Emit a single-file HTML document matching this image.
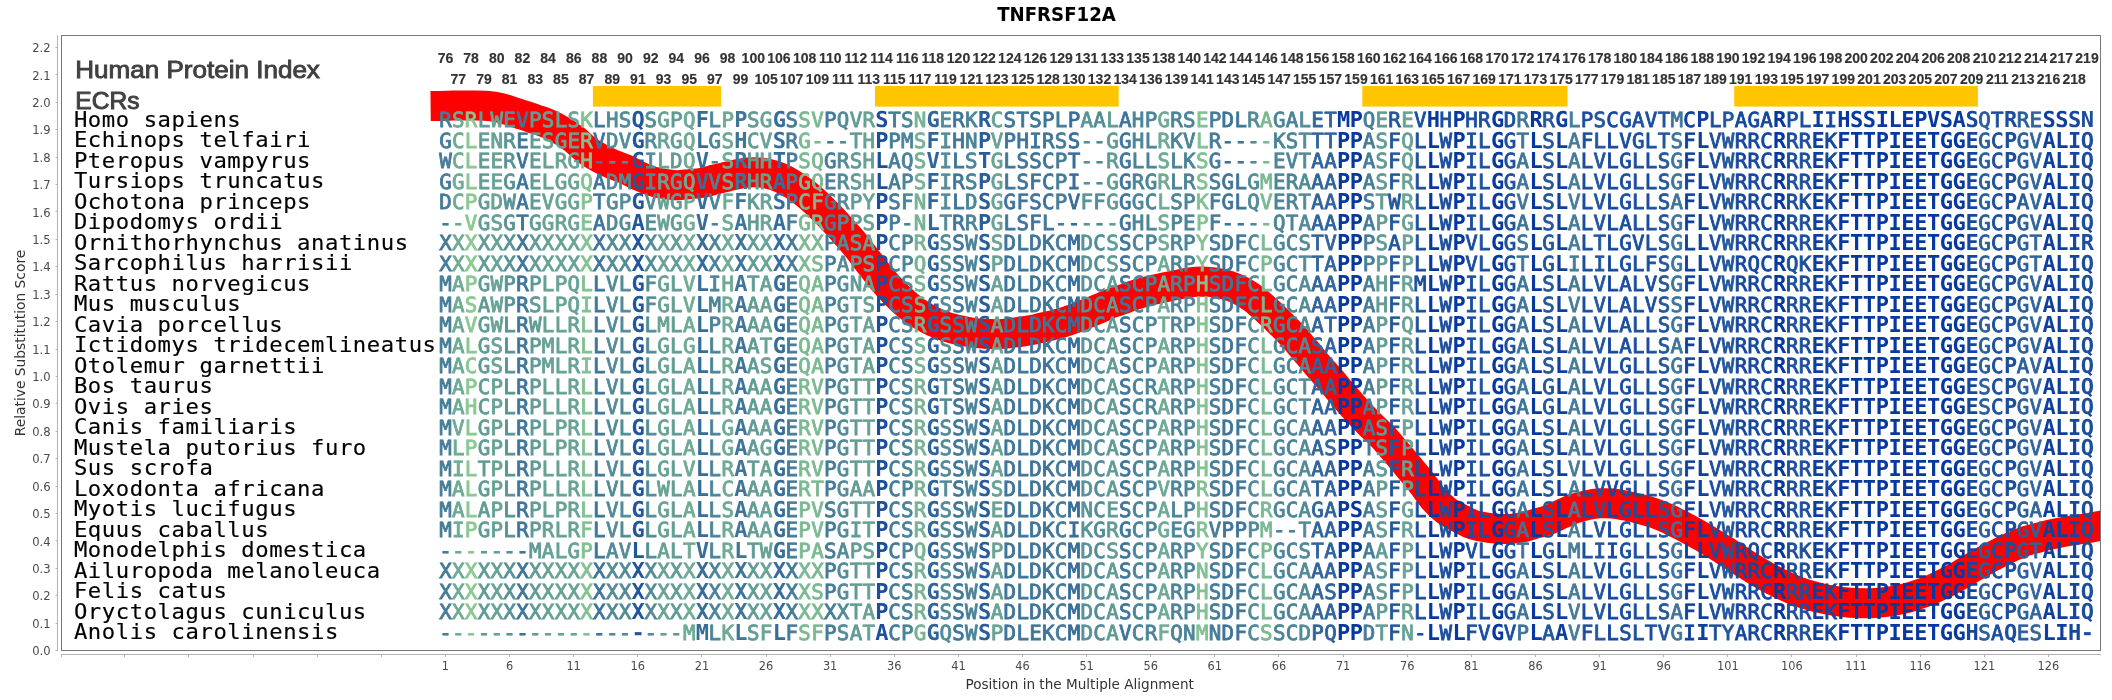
<!DOCTYPE html>
<html lang="en"><head><meta charset="utf-8"><title>TNFRSF12A</title>
<style>html,body{margin:0;padding:0;background:#fff}svg{display:block;will-change:transform}.t{font-family:"Liberation Sans",sans-serif}.tick{font-family:"DejaVu Sans Condensed","DejaVu Sans","Liberation Sans",sans-serif;font-size:12.6px;fill:#4a4a4a}.ax{font-family:"DejaVu Sans Condensed","DejaVu Sans","Liberation Sans",sans-serif;font-size:13.5px;fill:#333}.idx{font-family:"Liberation Sans",sans-serif;font-weight:bold;font-size:15px;fill:#333;stroke:#333;stroke-width:.15px;text-anchor:middle}.sp{font-family:"DejaVu Sans Mono","Liberation Mono",monospace;font-size:21.6px;fill:#000;stroke:#000;stroke-width:.15px;letter-spacing:.55px}.sq{font-family:"DejaVu Sans Mono","Liberation Mono",monospace;font-size:20.8px;letter-spacing:0.2981px;white-space:pre;stroke-width:.85px;text-rendering:geometricPrecision}.b{font-weight:bold;stroke-width:0;font-size:22px;letter-spacing:-0.4255px}
.c0{fill:#89c891;stroke:#89c891}
.c1{fill:#82c192;stroke:#82c192}
.c2{fill:#7bb992;stroke:#7bb992}
.c3{fill:#75b293;stroke:#75b293}
.c4{fill:#6eaa94;stroke:#6eaa94}
.c5{fill:#67a295;stroke:#67a295}
.c6{fill:#609b95;stroke:#609b95}
.c7{fill:#599396;stroke:#599396}
.c8{fill:#528b97;stroke:#528b97}
.c9{fill:#4b8498;stroke:#4b8498}
.c10{fill:#457c98;stroke:#457c98}
.c11{fill:#3e7599;stroke:#3e7599}
.c12{fill:#376d9a;stroke:#376d9a}
.c13{fill:#30659b;stroke:#30659b}
.c14{fill:#295e9b;stroke:#295e9b}
.c15{fill:#22569c;stroke:#22569c}
.c16{fill:#1b4e9d;stroke:#1b4e9d}
.c17{fill:#15479e;stroke:#15479e}
.c18{fill:#0e3f9e;stroke:#0e3f9e}
.c19{fill:#07389f;stroke:#07389f}
</style></head><body>
<svg width="2112" height="700" viewBox="0 0 2112 700">
<rect width="2112" height="700" fill="#fff"/>
<text x="1056.5" y="21" text-anchor="middle" font-family="DejaVu Sans Condensed,DejaVu Sans,Liberation Sans,sans-serif" font-weight="bold" font-size="19.8" fill="#000" textLength="118.7" lengthAdjust="spacingAndGlyphs">TNFRSF12A</text>
<g stroke="#b3b3b3" stroke-width="1" fill="none">
<path d="M57.5 35V651"/>
<path d="M61 654.5H2101"/>
<path d="M55.5 650.5H57.5M55.5 623.5H57.5M55.5 595.5H57.5M55.5 568.5H57.5M55.5 540.5H57.5M55.5 513.5H57.5M55.5 486.5H57.5M55.5 458.5H57.5M55.5 431.5H57.5M55.5 403.5H57.5M55.5 376.5H57.5M55.5 349.5H57.5M55.5 321.5H57.5M55.5 294.5H57.5M55.5 266.5H57.5M55.5 239.5H57.5M55.5 211.5H57.5M55.5 184.5H57.5M55.5 157.5H57.5M55.5 129.5H57.5M55.5 102.5H57.5M55.5 74.5H57.5M55.5 47.5H57.5"/>
<path d="M61.5 654.5V657M124.5 654.5V657M188.5 654.5V657M253.5 654.5V657M317.5 654.5V657M381.5 654.5V657M445.5 654.5V657M509.5 654.5V657M573.5 654.5V657M637.5 654.5V657M701.5 654.5V657M766.5 654.5V657M830.5 654.5V657M894.5 654.5V657M958.5 654.5V657M1022.5 654.5V657M1086.5 654.5V657M1150.5 654.5V657M1214.5 654.5V657M1278.5 654.5V657M1343.5 654.5V657M1407.5 654.5V657M1471.5 654.5V657M1535.5 654.5V657M1599.5 654.5V657M1663.5 654.5V657M1727.5 654.5V657M1791.5 654.5V657M1856.5 654.5V657M1920.5 654.5V657M1984.5 654.5V657M2048.5 654.5V657"/>
</g>
<text class="tick" x="50.6" y="655.1" text-anchor="end" textLength="18.4" lengthAdjust="spacingAndGlyphs">0.0</text>
<text class="tick" x="50.6" y="627.7" text-anchor="end" textLength="18.4" lengthAdjust="spacingAndGlyphs">0.1</text>
<text class="tick" x="50.6" y="600.3" text-anchor="end" textLength="18.4" lengthAdjust="spacingAndGlyphs">0.2</text>
<text class="tick" x="50.6" y="572.9" text-anchor="end" textLength="18.4" lengthAdjust="spacingAndGlyphs">0.3</text>
<text class="tick" x="50.6" y="545.5" text-anchor="end" textLength="18.4" lengthAdjust="spacingAndGlyphs">0.4</text>
<text class="tick" x="50.6" y="518.1" text-anchor="end" textLength="18.4" lengthAdjust="spacingAndGlyphs">0.5</text>
<text class="tick" x="50.6" y="490.6" text-anchor="end" textLength="18.4" lengthAdjust="spacingAndGlyphs">0.6</text>
<text class="tick" x="50.6" y="463.2" text-anchor="end" textLength="18.4" lengthAdjust="spacingAndGlyphs">0.7</text>
<text class="tick" x="50.6" y="435.8" text-anchor="end" textLength="18.4" lengthAdjust="spacingAndGlyphs">0.8</text>
<text class="tick" x="50.6" y="408.4" text-anchor="end" textLength="18.4" lengthAdjust="spacingAndGlyphs">0.9</text>
<text class="tick" x="50.6" y="381.0" text-anchor="end" textLength="18.4" lengthAdjust="spacingAndGlyphs">1.0</text>
<text class="tick" x="50.6" y="353.6" text-anchor="end" textLength="18.4" lengthAdjust="spacingAndGlyphs">1.1</text>
<text class="tick" x="50.6" y="326.2" text-anchor="end" textLength="18.4" lengthAdjust="spacingAndGlyphs">1.2</text>
<text class="tick" x="50.6" y="298.8" text-anchor="end" textLength="18.4" lengthAdjust="spacingAndGlyphs">1.3</text>
<text class="tick" x="50.6" y="271.4" text-anchor="end" textLength="18.4" lengthAdjust="spacingAndGlyphs">1.4</text>
<text class="tick" x="50.6" y="244.0" text-anchor="end" textLength="18.4" lengthAdjust="spacingAndGlyphs">1.5</text>
<text class="tick" x="50.6" y="216.6" text-anchor="end" textLength="18.4" lengthAdjust="spacingAndGlyphs">1.6</text>
<text class="tick" x="50.6" y="189.1" text-anchor="end" textLength="18.4" lengthAdjust="spacingAndGlyphs">1.7</text>
<text class="tick" x="50.6" y="161.7" text-anchor="end" textLength="18.4" lengthAdjust="spacingAndGlyphs">1.8</text>
<text class="tick" x="50.6" y="134.3" text-anchor="end" textLength="18.4" lengthAdjust="spacingAndGlyphs">1.9</text>
<text class="tick" x="50.6" y="106.9" text-anchor="end" textLength="18.4" lengthAdjust="spacingAndGlyphs">2.0</text>
<text class="tick" x="50.6" y="79.5" text-anchor="end" textLength="18.4" lengthAdjust="spacingAndGlyphs">2.1</text>
<text class="tick" x="50.6" y="52.1" text-anchor="end" textLength="18.4" lengthAdjust="spacingAndGlyphs">2.2</text>
<text class="tick" x="445.4" y="670" text-anchor="middle">1</text>
<text class="tick" x="509.5" y="670" text-anchor="middle">6</text>
<text class="tick" x="573.6" y="670" text-anchor="middle">11</text>
<text class="tick" x="637.8" y="670" text-anchor="middle">16</text>
<text class="tick" x="701.9" y="670" text-anchor="middle">21</text>
<text class="tick" x="766.0" y="670" text-anchor="middle">26</text>
<text class="tick" x="830.1" y="670" text-anchor="middle">31</text>
<text class="tick" x="894.2" y="670" text-anchor="middle">36</text>
<text class="tick" x="958.4" y="670" text-anchor="middle">41</text>
<text class="tick" x="1022.5" y="670" text-anchor="middle">46</text>
<text class="tick" x="1086.6" y="670" text-anchor="middle">51</text>
<text class="tick" x="1150.7" y="670" text-anchor="middle">56</text>
<text class="tick" x="1214.8" y="670" text-anchor="middle">61</text>
<text class="tick" x="1279.0" y="670" text-anchor="middle">66</text>
<text class="tick" x="1343.1" y="670" text-anchor="middle">71</text>
<text class="tick" x="1407.2" y="670" text-anchor="middle">76</text>
<text class="tick" x="1471.3" y="670" text-anchor="middle">81</text>
<text class="tick" x="1535.4" y="670" text-anchor="middle">86</text>
<text class="tick" x="1599.6" y="670" text-anchor="middle">91</text>
<text class="tick" x="1663.7" y="670" text-anchor="middle">96</text>
<text class="tick" x="1727.8" y="670" text-anchor="middle">101</text>
<text class="tick" x="1791.9" y="670" text-anchor="middle">106</text>
<text class="tick" x="1856.0" y="670" text-anchor="middle">111</text>
<text class="tick" x="1920.2" y="670" text-anchor="middle">116</text>
<text class="tick" x="1984.3" y="670" text-anchor="middle">121</text>
<text class="tick" x="2048.4" y="670" text-anchor="middle">126</text>
<text class="ax" x="1079.7" y="688.9" text-anchor="middle" textLength="228.4" lengthAdjust="spacingAndGlyphs">Position in the Multiple Alignment</text>
<text class="ax" transform="translate(25.2,343) rotate(-90)" text-anchor="middle" textLength="186.5" lengthAdjust="spacingAndGlyphs">Relative Substitution Score</text>
<clipPath id="pc"><rect x="61.5" y="35.5" width="2039" height="615"/></clipPath>
<path d="M430.6 106.0C433.2 106.0 441.3 105.9 446.0 105.8C450.7 105.7 454.5 105.5 458.8 105.4C463.1 105.4 467.3 105.4 471.6 105.5C475.9 105.6 480.2 105.5 484.5 105.8C488.8 106.1 493.0 106.4 497.3 107.2C501.6 108.0 505.8 109.5 510.1 110.8C514.4 112.1 518.6 113.6 522.9 115.0C527.2 116.4 531.5 117.8 535.8 119.3C540.1 120.8 544.3 122.1 548.6 124.0C552.9 125.9 557.1 128.1 561.4 130.6C565.7 133.1 569.9 135.8 574.2 139.1C578.5 142.4 582.8 147.2 587.1 150.4C591.4 153.6 595.6 156.0 599.9 158.3C604.2 160.6 608.4 162.6 612.7 164.4C617.0 166.2 621.2 167.4 625.5 169.3C629.8 171.2 634.1 173.8 638.4 175.7C642.7 177.6 646.9 179.5 651.2 180.9C655.5 182.3 659.7 183.2 664.0 183.9C668.3 184.6 672.5 185.2 676.8 185.2C681.1 185.2 685.4 184.5 689.7 184.1C694.0 183.7 698.2 183.6 702.5 182.8C706.8 182.0 711.0 180.5 715.3 179.4C719.6 178.3 723.8 177.4 728.1 176.4C732.4 175.4 736.7 174.2 741.0 173.5C745.3 172.8 749.5 172.2 753.8 172.2C758.1 172.2 762.3 172.6 766.6 173.5C770.9 174.4 775.1 175.6 779.4 177.4C783.7 179.2 787.9 181.4 792.2 184.1C796.5 186.8 800.8 189.9 805.1 193.3C809.4 196.7 813.6 200.5 817.9 204.5C822.2 208.5 826.4 212.9 830.7 217.3C835.0 221.8 839.2 226.4 843.5 231.2C847.8 236.0 852.1 240.8 856.4 246.1C860.7 251.4 864.9 257.3 869.2 262.8C873.5 268.3 877.7 274.0 882.0 279.1C886.3 284.2 890.5 288.8 894.8 293.2C899.1 297.6 903.4 301.7 907.7 305.3C912.0 308.9 916.2 311.9 920.5 314.6C924.8 317.3 929.0 319.7 933.3 321.7C937.6 323.7 941.8 325.3 946.1 326.7C950.4 328.1 954.7 329.1 959.0 330.1C963.3 331.1 967.5 331.9 971.8 332.5C976.1 333.1 980.3 333.5 984.6 333.8C988.9 334.1 993.1 334.3 997.4 334.2C1001.7 334.1 1006.0 333.6 1010.3 333.1C1014.6 332.6 1018.8 332.1 1023.1 331.4C1027.4 330.7 1031.6 330.0 1035.9 329.1C1040.2 328.2 1044.4 327.1 1048.7 326.1C1053.0 325.1 1057.3 324.2 1061.6 322.9C1065.9 321.6 1070.1 320.1 1074.4 318.5C1078.7 316.9 1082.9 315.1 1087.2 313.4C1091.5 311.7 1095.7 309.9 1100.0 308.1C1104.3 306.3 1108.5 304.4 1112.8 302.8C1117.1 301.2 1121.4 299.8 1125.7 298.3C1130.0 296.8 1134.2 295.2 1138.5 293.9C1142.8 292.6 1147.0 291.4 1151.3 290.3C1155.6 289.2 1159.8 288.4 1164.1 287.5C1168.4 286.6 1172.7 285.7 1177.0 284.8C1181.3 283.9 1185.5 282.8 1189.8 282.3C1194.1 281.8 1198.3 281.6 1202.6 281.6C1206.9 281.7 1211.1 282.0 1215.4 282.6C1219.7 283.2 1224.0 284.1 1228.3 285.5C1232.6 286.9 1236.8 288.6 1241.1 290.8C1245.4 293.1 1249.6 295.8 1253.9 299.0C1258.2 302.2 1262.4 306.3 1266.7 310.2C1271.0 314.1 1275.3 318.3 1279.6 322.5C1283.9 326.7 1288.1 330.9 1292.4 335.5C1296.7 340.1 1300.9 345.4 1305.2 350.4C1309.5 355.4 1313.7 360.7 1318.0 365.7C1322.3 370.7 1326.6 375.3 1330.9 380.3C1335.2 385.3 1339.4 390.6 1343.7 395.6C1348.0 400.6 1352.2 405.4 1356.5 410.1C1360.8 414.8 1365.0 419.3 1369.3 423.6C1373.6 427.9 1377.9 431.6 1382.2 436.1C1386.5 440.6 1390.7 445.7 1395.0 450.7C1399.3 455.7 1403.5 460.9 1407.8 466.0C1412.1 471.1 1416.3 475.9 1420.6 481.3C1424.9 486.7 1429.1 493.6 1433.4 498.5C1437.7 503.4 1442.0 507.5 1446.3 510.7C1450.6 513.9 1454.8 515.6 1459.1 517.9C1463.4 520.1 1467.6 522.6 1471.9 524.2C1476.2 525.8 1480.4 526.5 1484.7 527.3C1489.0 528.1 1493.3 528.5 1497.6 528.8C1501.9 529.1 1506.1 529.1 1510.4 528.9C1514.7 528.6 1518.9 528.2 1523.2 527.3C1527.5 526.4 1531.7 524.8 1536.0 523.5C1540.3 522.2 1544.6 521.3 1548.9 519.7C1553.2 518.1 1557.4 515.8 1561.7 513.9C1566.0 512.0 1570.2 510.0 1574.5 508.5C1578.8 507.0 1583.0 506.0 1587.3 505.1C1591.6 504.2 1595.9 503.6 1600.2 503.3C1604.5 503.0 1608.7 503.1 1613.0 503.5C1617.3 503.9 1621.5 504.8 1625.8 505.6C1630.1 506.5 1634.3 507.5 1638.6 508.6C1642.9 509.7 1647.2 510.9 1651.5 512.3C1655.8 513.7 1660.0 515.4 1664.3 517.2C1668.6 519.0 1672.8 521.2 1677.1 523.3C1681.4 525.4 1685.6 527.7 1689.9 530.0C1694.2 532.3 1698.5 534.6 1702.8 537.1C1707.1 539.6 1711.3 542.4 1715.6 545.0C1719.9 547.6 1724.1 550.3 1728.4 553.0C1732.7 555.7 1736.9 558.6 1741.2 561.3C1745.5 564.0 1749.7 566.7 1754.0 569.3C1758.3 571.9 1762.6 574.4 1766.9 576.8C1771.2 579.1 1775.4 581.3 1779.7 583.4C1784.0 585.5 1788.2 587.5 1792.5 589.3C1796.8 591.1 1801.0 592.7 1805.3 594.1C1809.6 595.5 1813.9 596.6 1818.2 597.6C1822.5 598.6 1826.7 599.5 1831.0 600.2C1835.3 601.0 1839.5 601.6 1843.8 602.1C1848.1 602.6 1852.3 602.9 1856.6 603.1C1860.9 603.3 1865.2 603.3 1869.5 603.2C1873.8 603.1 1878.0 602.8 1882.3 602.3C1886.6 601.8 1890.8 601.3 1895.1 600.5C1899.4 599.7 1903.6 598.8 1907.9 597.7C1912.2 596.6 1916.5 595.2 1920.8 593.7C1925.1 592.2 1929.3 590.5 1933.6 588.6C1937.9 586.7 1942.1 584.6 1946.4 582.4C1950.7 580.2 1954.9 577.9 1959.2 575.5C1963.5 573.1 1967.8 570.3 1972.1 567.8C1976.4 565.3 1980.6 562.8 1984.9 560.4C1989.2 558.0 1993.4 555.8 1997.7 553.6C2002.0 551.4 2006.2 549.4 2010.5 547.4C2014.8 545.4 2019.1 543.3 2023.4 541.8C2027.7 540.3 2031.9 539.4 2036.2 538.2C2040.5 537.1 2044.7 535.9 2049.0 534.9C2053.3 533.9 2057.5 533.0 2061.8 532.2C2066.1 531.4 2070.3 530.7 2074.6 530.0C2078.9 529.3 2083.2 528.9 2087.5 528.2C2091.8 527.5 2096.0 526.6 2100.3 525.9C2104.6 525.1 2106.7 524.8 2113.1 523.7C2119.5 522.6 2134.5 520.0 2138.8 519.2" fill="none" stroke="#ff0000" stroke-width="30" stroke-linejoin="round" clip-path="url(#pc)"/>
<rect x="592.9" y="86" width="128.2" height="20.6" fill="#ffc600"/>
<rect x="875.0" y="86" width="243.7" height="20.6" fill="#ffc600"/>
<rect x="1362.3" y="86" width="205.2" height="20.6" fill="#ffc600"/>
<rect x="1734.2" y="86" width="243.7" height="20.6" fill="#ffc600"/>
<text class="t" x="75.3" y="77.6" font-size="24.4" fill="#404040" stroke="#404040" stroke-width=".9" textLength="244.6" lengthAdjust="spacingAndGlyphs">Human Protein Index</text>
<text class="t" x="75.3" y="108.8" font-size="23.6" fill="#404040" stroke="#404040" stroke-width=".9" textLength="64.2" lengthAdjust="spacingAndGlyphs">ECRs</text>
<text class="idx" transform="translate(445.5 62.9) scale(.935 1)">76</text>
<text class="idx" transform="translate(471.1 62.9) scale(.935 1)">78</text>
<text class="idx" transform="translate(496.8 62.9) scale(.935 1)">80</text>
<text class="idx" transform="translate(522.4 62.9) scale(.935 1)">82</text>
<text class="idx" transform="translate(548.1 62.9) scale(.935 1)">84</text>
<text class="idx" transform="translate(573.7 62.9) scale(.935 1)">86</text>
<text class="idx" transform="translate(599.4 62.9) scale(.935 1)">88</text>
<text class="idx" transform="translate(625.0 62.9) scale(.935 1)">90</text>
<text class="idx" transform="translate(650.7 62.9) scale(.935 1)">92</text>
<text class="idx" transform="translate(676.3 62.9) scale(.935 1)">94</text>
<text class="idx" transform="translate(702.0 62.9) scale(.935 1)">96</text>
<text class="idx" transform="translate(727.6 62.9) scale(.935 1)">98</text>
<text class="idx" transform="translate(753.3 62.9) scale(.935 1)">100</text>
<text class="idx" transform="translate(778.9 62.9) scale(.935 1)">106</text>
<text class="idx" transform="translate(804.6 62.9) scale(.935 1)">108</text>
<text class="idx" transform="translate(830.2 62.9) scale(.935 1)">110</text>
<text class="idx" transform="translate(855.9 62.9) scale(.935 1)">112</text>
<text class="idx" transform="translate(881.5 62.9) scale(.935 1)">114</text>
<text class="idx" transform="translate(907.2 62.9) scale(.935 1)">116</text>
<text class="idx" transform="translate(932.8 62.9) scale(.935 1)">118</text>
<text class="idx" transform="translate(958.5 62.9) scale(.935 1)">120</text>
<text class="idx" transform="translate(984.1 62.9) scale(.935 1)">122</text>
<text class="idx" transform="translate(1009.8 62.9) scale(.935 1)">124</text>
<text class="idx" transform="translate(1035.4 62.9) scale(.935 1)">126</text>
<text class="idx" transform="translate(1061.1 62.9) scale(.935 1)">129</text>
<text class="idx" transform="translate(1086.7 62.9) scale(.935 1)">131</text>
<text class="idx" transform="translate(1112.3 62.9) scale(.935 1)">133</text>
<text class="idx" transform="translate(1138.0 62.9) scale(.935 1)">135</text>
<text class="idx" transform="translate(1163.6 62.9) scale(.935 1)">138</text>
<text class="idx" transform="translate(1189.3 62.9) scale(.935 1)">140</text>
<text class="idx" transform="translate(1214.9 62.9) scale(.935 1)">142</text>
<text class="idx" transform="translate(1240.6 62.9) scale(.935 1)">144</text>
<text class="idx" transform="translate(1266.2 62.9) scale(.935 1)">146</text>
<text class="idx" transform="translate(1291.9 62.9) scale(.935 1)">148</text>
<text class="idx" transform="translate(1317.5 62.9) scale(.935 1)">156</text>
<text class="idx" transform="translate(1343.2 62.9) scale(.935 1)">158</text>
<text class="idx" transform="translate(1368.8 62.9) scale(.935 1)">160</text>
<text class="idx" transform="translate(1394.5 62.9) scale(.935 1)">162</text>
<text class="idx" transform="translate(1420.1 62.9) scale(.935 1)">164</text>
<text class="idx" transform="translate(1445.8 62.9) scale(.935 1)">166</text>
<text class="idx" transform="translate(1471.4 62.9) scale(.935 1)">168</text>
<text class="idx" transform="translate(1497.1 62.9) scale(.935 1)">170</text>
<text class="idx" transform="translate(1522.7 62.9) scale(.935 1)">172</text>
<text class="idx" transform="translate(1548.4 62.9) scale(.935 1)">174</text>
<text class="idx" transform="translate(1574.0 62.9) scale(.935 1)">176</text>
<text class="idx" transform="translate(1599.7 62.9) scale(.935 1)">178</text>
<text class="idx" transform="translate(1625.3 62.9) scale(.935 1)">180</text>
<text class="idx" transform="translate(1651.0 62.9) scale(.935 1)">184</text>
<text class="idx" transform="translate(1676.6 62.9) scale(.935 1)">186</text>
<text class="idx" transform="translate(1702.3 62.9) scale(.935 1)">188</text>
<text class="idx" transform="translate(1727.9 62.9) scale(.935 1)">190</text>
<text class="idx" transform="translate(1753.5 62.9) scale(.935 1)">192</text>
<text class="idx" transform="translate(1779.2 62.9) scale(.935 1)">194</text>
<text class="idx" transform="translate(1804.8 62.9) scale(.935 1)">196</text>
<text class="idx" transform="translate(1830.5 62.9) scale(.935 1)">198</text>
<text class="idx" transform="translate(1856.1 62.9) scale(.935 1)">200</text>
<text class="idx" transform="translate(1881.8 62.9) scale(.935 1)">202</text>
<text class="idx" transform="translate(1907.4 62.9) scale(.935 1)">204</text>
<text class="idx" transform="translate(1933.1 62.9) scale(.935 1)">206</text>
<text class="idx" transform="translate(1958.7 62.9) scale(.935 1)">208</text>
<text class="idx" transform="translate(1984.4 62.9) scale(.935 1)">210</text>
<text class="idx" transform="translate(2010.0 62.9) scale(.935 1)">212</text>
<text class="idx" transform="translate(2035.7 62.9) scale(.935 1)">214</text>
<text class="idx" transform="translate(2061.3 62.9) scale(.935 1)">217</text>
<text class="idx" transform="translate(2087.0 62.9) scale(.935 1)">219</text>
<text class="idx" transform="translate(458.3 83.8) scale(.935 1)">77</text>
<text class="idx" transform="translate(484.0 83.8) scale(.935 1)">79</text>
<text class="idx" transform="translate(509.6 83.8) scale(.935 1)">81</text>
<text class="idx" transform="translate(535.3 83.8) scale(.935 1)">83</text>
<text class="idx" transform="translate(560.9 83.8) scale(.935 1)">85</text>
<text class="idx" transform="translate(586.6 83.8) scale(.935 1)">87</text>
<text class="idx" transform="translate(612.2 83.8) scale(.935 1)">89</text>
<text class="idx" transform="translate(637.9 83.8) scale(.935 1)">91</text>
<text class="idx" transform="translate(663.5 83.8) scale(.935 1)">93</text>
<text class="idx" transform="translate(689.2 83.8) scale(.935 1)">95</text>
<text class="idx" transform="translate(714.8 83.8) scale(.935 1)">97</text>
<text class="idx" transform="translate(740.5 83.8) scale(.935 1)">99</text>
<text class="idx" transform="translate(766.1 83.8) scale(.935 1)">105</text>
<text class="idx" transform="translate(791.7 83.8) scale(.935 1)">107</text>
<text class="idx" transform="translate(817.4 83.8) scale(.935 1)">109</text>
<text class="idx" transform="translate(843.0 83.8) scale(.935 1)">111</text>
<text class="idx" transform="translate(868.7 83.8) scale(.935 1)">113</text>
<text class="idx" transform="translate(894.3 83.8) scale(.935 1)">115</text>
<text class="idx" transform="translate(920.0 83.8) scale(.935 1)">117</text>
<text class="idx" transform="translate(945.6 83.8) scale(.935 1)">119</text>
<text class="idx" transform="translate(971.3 83.8) scale(.935 1)">121</text>
<text class="idx" transform="translate(996.9 83.8) scale(.935 1)">123</text>
<text class="idx" transform="translate(1022.6 83.8) scale(.935 1)">125</text>
<text class="idx" transform="translate(1048.2 83.8) scale(.935 1)">128</text>
<text class="idx" transform="translate(1073.9 83.8) scale(.935 1)">130</text>
<text class="idx" transform="translate(1099.5 83.8) scale(.935 1)">132</text>
<text class="idx" transform="translate(1125.2 83.8) scale(.935 1)">134</text>
<text class="idx" transform="translate(1150.8 83.8) scale(.935 1)">136</text>
<text class="idx" transform="translate(1176.5 83.8) scale(.935 1)">139</text>
<text class="idx" transform="translate(1202.1 83.8) scale(.935 1)">141</text>
<text class="idx" transform="translate(1227.8 83.8) scale(.935 1)">143</text>
<text class="idx" transform="translate(1253.4 83.8) scale(.935 1)">145</text>
<text class="idx" transform="translate(1279.1 83.8) scale(.935 1)">147</text>
<text class="idx" transform="translate(1304.7 83.8) scale(.935 1)">155</text>
<text class="idx" transform="translate(1330.4 83.8) scale(.935 1)">157</text>
<text class="idx" transform="translate(1356.0 83.8) scale(.935 1)">159</text>
<text class="idx" transform="translate(1381.7 83.8) scale(.935 1)">161</text>
<text class="idx" transform="translate(1407.3 83.8) scale(.935 1)">163</text>
<text class="idx" transform="translate(1432.9 83.8) scale(.935 1)">165</text>
<text class="idx" transform="translate(1458.6 83.8) scale(.935 1)">167</text>
<text class="idx" transform="translate(1484.2 83.8) scale(.935 1)">169</text>
<text class="idx" transform="translate(1509.9 83.8) scale(.935 1)">171</text>
<text class="idx" transform="translate(1535.5 83.8) scale(.935 1)">173</text>
<text class="idx" transform="translate(1561.2 83.8) scale(.935 1)">175</text>
<text class="idx" transform="translate(1586.8 83.8) scale(.935 1)">177</text>
<text class="idx" transform="translate(1612.5 83.8) scale(.935 1)">179</text>
<text class="idx" transform="translate(1638.1 83.8) scale(.935 1)">181</text>
<text class="idx" transform="translate(1663.8 83.8) scale(.935 1)">185</text>
<text class="idx" transform="translate(1689.4 83.8) scale(.935 1)">187</text>
<text class="idx" transform="translate(1715.1 83.8) scale(.935 1)">189</text>
<text class="idx" transform="translate(1740.7 83.8) scale(.935 1)">191</text>
<text class="idx" transform="translate(1766.4 83.8) scale(.935 1)">193</text>
<text class="idx" transform="translate(1792.0 83.8) scale(.935 1)">195</text>
<text class="idx" transform="translate(1817.7 83.8) scale(.935 1)">197</text>
<text class="idx" transform="translate(1843.3 83.8) scale(.935 1)">199</text>
<text class="idx" transform="translate(1869.0 83.8) scale(.935 1)">201</text>
<text class="idx" transform="translate(1894.6 83.8) scale(.935 1)">203</text>
<text class="idx" transform="translate(1920.3 83.8) scale(.935 1)">205</text>
<text class="idx" transform="translate(1945.9 83.8) scale(.935 1)">207</text>
<text class="idx" transform="translate(1971.6 83.8) scale(.935 1)">209</text>
<text class="idx" transform="translate(1997.2 83.8) scale(.935 1)">211</text>
<text class="idx" transform="translate(2022.9 83.8) scale(.935 1)">213</text>
<text class="idx" transform="translate(2048.5 83.8) scale(.935 1)">216</text>
<text class="idx" transform="translate(2074.1 83.8) scale(.935 1)">218</text>
<text class="sp" transform="translate(73.9 126.8) scale(1.03 1)">Homo sapiens</text>
<text class="sp" transform="translate(73.9 147.3) scale(1.03 1)">Echinops telfairi</text>
<text class="sp" transform="translate(73.9 167.8) scale(1.03 1)">Pteropus vampyrus</text>
<text class="sp" transform="translate(73.9 188.3) scale(1.03 1)">Tursiops truncatus</text>
<text class="sp" transform="translate(73.9 208.8) scale(1.03 1)">Ochotona princeps</text>
<text class="sp" transform="translate(73.9 229.3) scale(1.03 1)">Dipodomys ordii</text>
<text class="sp" transform="translate(73.9 249.8) scale(1.03 1)">Ornithorhynchus anatinus</text>
<text class="sp" transform="translate(73.9 270.3) scale(1.03 1)">Sarcophilus harrisii</text>
<text class="sp" transform="translate(73.9 290.8) scale(1.03 1)">Rattus norvegicus</text>
<text class="sp" transform="translate(73.9 311.3) scale(1.03 1)">Mus musculus</text>
<text class="sp" transform="translate(73.9 331.8) scale(1.03 1)">Cavia porcellus</text>
<text class="sp" transform="translate(73.9 352.3) scale(1.03 1)">Ictidomys tridecemlineatus</text>
<text class="sp" transform="translate(73.9 372.8) scale(1.03 1)">Otolemur garnettii</text>
<text class="sp" transform="translate(73.9 393.3) scale(1.03 1)">Bos taurus</text>
<text class="sp" transform="translate(73.9 413.8) scale(1.03 1)">Ovis aries</text>
<text class="sp" transform="translate(73.9 434.3) scale(1.03 1)">Canis familiaris</text>
<text class="sp" transform="translate(73.9 454.8) scale(1.03 1)">Mustela putorius furo</text>
<text class="sp" transform="translate(73.9 475.3) scale(1.03 1)">Sus scrofa</text>
<text class="sp" transform="translate(73.9 495.8) scale(1.03 1)">Loxodonta africana</text>
<text class="sp" transform="translate(73.9 516.3) scale(1.03 1)">Myotis lucifugus</text>
<text class="sp" transform="translate(73.9 536.8) scale(1.03 1)">Equus caballus</text>
<text class="sp" transform="translate(73.9 557.3) scale(1.03 1)">Monodelphis domestica</text>
<text class="sp" transform="translate(73.9 577.8) scale(1.03 1)">Ailuropoda melanoleuca</text>
<text class="sp" transform="translate(73.9 598.3) scale(1.03 1)">Felis catus</text>
<text class="sp" transform="translate(73.9 618.8) scale(1.03 1)">Oryctolagus cuniculus</text>
<text class="sp" transform="translate(73.9 639.3) scale(1.03 1)">Anolis carolinensis</text>
<text class="sq" x="439.19" y="127.1"><tspan class="c10">R</tspan><tspan class="c4">S</tspan><tspan class="c0">R</tspan><tspan class="c6">L</tspan><tspan class="c5">W</tspan><tspan class="c7">E</tspan><tspan class="c11">V</tspan><tspan class="c6">P</tspan><tspan class="c5">SLS</tspan><tspan class="c1">K</tspan><tspan class="c11">L</tspan><tspan class="c8">HS</tspan><tspan class="c15 b">Q</tspan><tspan class="c8">S</tspan><tspan class="c5">G</tspan><tspan class="c6">P</tspan><tspan class="c4">Q</tspan><tspan class="c12 b">F</tspan><tspan class="c9">L</tspan><tspan class="c4">P</tspan><tspan class="c11 b">P</tspan><tspan class="c6">S</tspan><tspan class="c5">G</tspan><tspan class="c12 b">G</tspan><tspan class="c10">S</tspan><tspan class="c2">SV</tspan><tspan class="c10">P</tspan><tspan class="c8">Q</tspan><tspan class="c6">V</tspan><tspan class="c5">R</tspan><tspan class="c16 b">S</tspan><tspan class="c10">T</tspan><tspan class="c9">S</tspan><tspan class="c3">N</tspan><tspan class="c13 b">G</tspan><tspan class="c8">E</tspan><tspan class="c11">R</tspan><tspan class="c9">K</tspan><tspan class="c14 b">R</tspan><tspan class="c5">C</tspan><tspan class="c11">STSP</tspan><tspan class="c10">L</tspan><tspan class="c12">P</tspan><tspan class="c7">A</tspan><tspan class="c8">A</tspan><tspan class="c6">L</tspan><tspan class="c11">A</tspan><tspan class="c9">HP</tspan><tspan class="c4">G</tspan><tspan class="c9">RS</tspan><tspan class="c1">E</tspan><tspan class="c10">P</tspan><tspan class="c11">DL</tspan><tspan class="c8">R</tspan><tspan class="c2">A</tspan><tspan class="c9">GA</tspan><tspan class="c8">L</tspan><tspan class="c13">ET</tspan><tspan class="c19 b">MP</tspan><tspan class="c10">Q</tspan><tspan class="c6">E</tspan><tspan class="c15">R</tspan><tspan class="c5">E</tspan><tspan class="c16">V</tspan><tspan class="c19 b">H</tspan><tspan class="c16">H</tspan><tspan class="c19 b">P</tspan><tspan class="c16">HR</tspan><tspan class="c19 b">G</tspan><tspan class="c16">D</tspan><tspan class="c11">R</tspan><tspan class="c19 b">R</tspan><tspan class="c15">R</tspan><tspan class="c18 b">G</tspan><tspan class="c10">L</tspan><tspan class="c16">P</tspan><tspan class="c15">S</tspan><tspan class="c17">C</tspan><tspan class="c16">GAV</tspan><tspan class="c15">T</tspan><tspan class="c11">M</tspan><tspan class="c18">C</tspan><tspan class="c18 b">P</tspan><tspan class="c16">L</tspan><tspan class="c15">P</tspan><tspan class="c17">AGA</tspan><tspan class="c19 b">R</tspan><tspan class="c16">PL</tspan><tspan class="c18 b">I</tspan><tspan class="c17">I</tspan><tspan class="c19 b">HSSILEPVSA</tspan><tspan class="c17 b">S</tspan><tspan class="c14">Q</tspan><tspan class="c16">T</tspan><tspan class="c16 b">R</tspan><tspan class="c14">R</tspan><tspan class="c13">E</tspan><tspan class="c18 b">SS</tspan><tspan class="c17 b">S</tspan><tspan class="c16 b">N</tspan></text>
<text class="sq" x="439.19" y="147.6"><tspan class="c10">G</tspan><tspan class="c4">C</tspan><tspan class="c0">L</tspan><tspan class="c6">E</tspan><tspan class="c5">N</tspan><tspan class="c7">R</tspan><tspan class="c11">E</tspan><tspan class="c6">E</tspan><tspan class="c5">SGE</tspan><tspan class="c1">R</tspan><tspan class="c11">V</tspan><tspan class="c8">DV</tspan><tspan class="c15 b">G</tspan><tspan class="c8">R</tspan><tspan class="c5">R</tspan><tspan class="c6">G</tspan><tspan class="c4">Q</tspan><tspan class="c12 b">L</tspan><tspan class="c9">G</tspan><tspan class="c4">S</tspan><tspan class="c11 b">H</tspan><tspan class="c6">C</tspan><tspan class="c5">V</tspan><tspan class="c12 b">S</tspan><tspan class="c10">R</tspan><tspan class="c2">G-</tspan><tspan class="c10">-</tspan><tspan class="c8">-</tspan><tspan class="c6">T</tspan><tspan class="c5">H</tspan><tspan class="c16 b">P</tspan><tspan class="c10">P</tspan><tspan class="c9">M</tspan><tspan class="c3">S</tspan><tspan class="c13 b">F</tspan><tspan class="c8">I</tspan><tspan class="c11">H</tspan><tspan class="c9">N</tspan><tspan class="c14 b">P</tspan><tspan class="c5">V</tspan><tspan class="c11">PHIR</tspan><tspan class="c10">S</tspan><tspan class="c12">S</tspan><tspan class="c7">-</tspan><tspan class="c8">-</tspan><tspan class="c6">G</tspan><tspan class="c11">G</tspan><tspan class="c9">HL</tspan><tspan class="c4">R</tspan><tspan class="c9">KV</tspan><tspan class="c1">L</tspan><tspan class="c10">R</tspan><tspan class="c11">--</tspan><tspan class="c8">-</tspan><tspan class="c2">-</tspan><tspan class="c9">KS</tspan><tspan class="c8">T</tspan><tspan class="c13">TT</tspan><tspan class="c19 b">PP</tspan><tspan class="c10">A</tspan><tspan class="c6">S</tspan><tspan class="c15">F</tspan><tspan class="c5">Q</tspan><tspan class="c16">L</tspan><tspan class="c19 b">L</tspan><tspan class="c16">W</tspan><tspan class="c19 b">P</tspan><tspan class="c16">IL</tspan><tspan class="c19 b">G</tspan><tspan class="c16">G</tspan><tspan class="c11">T</tspan><tspan class="c19 b">L</tspan><tspan class="c15">S</tspan><tspan class="c18 b">L</tspan><tspan class="c10">A</tspan><tspan class="c16">F</tspan><tspan class="c15">L</tspan><tspan class="c17">L</tspan><tspan class="c16">VGL</tspan><tspan class="c15">T</tspan><tspan class="c11">S</tspan><tspan class="c18">F</tspan><tspan class="c18 b">L</tspan><tspan class="c16">V</tspan><tspan class="c15">W</tspan><tspan class="c17">RRC</tspan><tspan class="c19 b">R</tspan><tspan class="c16">RR</tspan><tspan class="c18 b">E</tspan><tspan class="c17">K</tspan><tspan class="c19 b">FTTPIEETGG</tspan><tspan class="c17 b">E</tspan><tspan class="c14">G</tspan><tspan class="c16">C</tspan><tspan class="c16 b">P</tspan><tspan class="c14">G</tspan><tspan class="c13">V</tspan><tspan class="c18 b">AL</tspan><tspan class="c17 b">I</tspan><tspan class="c16 b">Q</tspan></text>
<text class="sq" x="439.19" y="168.1"><tspan class="c10">W</tspan><tspan class="c4">C</tspan><tspan class="c0">L</tspan><tspan class="c6">E</tspan><tspan class="c5">E</tspan><tspan class="c7">R</tspan><tspan class="c11">V</tspan><tspan class="c6">E</tspan><tspan class="c5">LRG</tspan><tspan class="c1">H</tspan><tspan class="c11">-</tspan><tspan class="c8">--</tspan><tspan class="c15 b">G</tspan><tspan class="c8">I</tspan><tspan class="c5">L</tspan><tspan class="c6">D</tspan><tspan class="c4">Q</tspan><tspan class="c12 b">V</tspan><tspan class="c9">-</tspan><tspan class="c4">S</tspan><tspan class="c11 b">R</tspan><tspan class="c6">H</tspan><tspan class="c5">H</tspan><tspan class="c12 b">T</tspan><tspan class="c10">P</tspan><tspan class="c2">SQ</tspan><tspan class="c10">G</tspan><tspan class="c8">R</tspan><tspan class="c6">S</tspan><tspan class="c5">H</tspan><tspan class="c16 b">L</tspan><tspan class="c10">A</tspan><tspan class="c9">Q</tspan><tspan class="c3">S</tspan><tspan class="c13 b">V</tspan><tspan class="c8">I</tspan><tspan class="c11">L</tspan><tspan class="c9">S</tspan><tspan class="c14 b">T</tspan><tspan class="c5">G</tspan><tspan class="c11">LSSC</tspan><tspan class="c10">P</tspan><tspan class="c12">T</tspan><tspan class="c7">-</tspan><tspan class="c8">-</tspan><tspan class="c6">R</tspan><tspan class="c11">G</tspan><tspan class="c9">LL</tspan><tspan class="c4">S</tspan><tspan class="c9">LK</tspan><tspan class="c1">S</tspan><tspan class="c10">G</tspan><tspan class="c11">--</tspan><tspan class="c8">-</tspan><tspan class="c2">-</tspan><tspan class="c9">EV</tspan><tspan class="c8">T</tspan><tspan class="c13">AA</tspan><tspan class="c19 b">PP</tspan><tspan class="c10">A</tspan><tspan class="c6">S</tspan><tspan class="c15">F</tspan><tspan class="c5">Q</tspan><tspan class="c16">L</tspan><tspan class="c19 b">L</tspan><tspan class="c16">W</tspan><tspan class="c19 b">P</tspan><tspan class="c16">IL</tspan><tspan class="c19 b">G</tspan><tspan class="c16">G</tspan><tspan class="c11">A</tspan><tspan class="c19 b">L</tspan><tspan class="c15">S</tspan><tspan class="c18 b">L</tspan><tspan class="c10">A</tspan><tspan class="c16">L</tspan><tspan class="c15">V</tspan><tspan class="c17">L</tspan><tspan class="c16">GLL</tspan><tspan class="c15">S</tspan><tspan class="c11">G</tspan><tspan class="c18">F</tspan><tspan class="c18 b">L</tspan><tspan class="c16">V</tspan><tspan class="c15">W</tspan><tspan class="c17">RRC</tspan><tspan class="c19 b">R</tspan><tspan class="c16">RR</tspan><tspan class="c18 b">E</tspan><tspan class="c17">K</tspan><tspan class="c19 b">FTTPIEETGG</tspan><tspan class="c17 b">E</tspan><tspan class="c14">G</tspan><tspan class="c16">C</tspan><tspan class="c16 b">P</tspan><tspan class="c14">G</tspan><tspan class="c13">V</tspan><tspan class="c18 b">AL</tspan><tspan class="c17 b">I</tspan><tspan class="c16 b">Q</tspan></text>
<text class="sq" x="439.19" y="188.6"><tspan class="c10">G</tspan><tspan class="c4">G</tspan><tspan class="c0">L</tspan><tspan class="c6">E</tspan><tspan class="c5">E</tspan><tspan class="c7">G</tspan><tspan class="c11">A</tspan><tspan class="c6">E</tspan><tspan class="c5">LGG</tspan><tspan class="c1">Q</tspan><tspan class="c11">A</tspan><tspan class="c8">DM</tspan><tspan class="c15 b">G</tspan><tspan class="c8">I</tspan><tspan class="c5">R</tspan><tspan class="c6">G</tspan><tspan class="c4">Q</tspan><tspan class="c12 b">V</tspan><tspan class="c9">V</tspan><tspan class="c4">S</tspan><tspan class="c11 b">R</tspan><tspan class="c6">H</tspan><tspan class="c5">R</tspan><tspan class="c12 b">A</tspan><tspan class="c10">P</tspan><tspan class="c2">GQ</tspan><tspan class="c10">E</tspan><tspan class="c8">R</tspan><tspan class="c6">S</tspan><tspan class="c5">H</tspan><tspan class="c16 b">L</tspan><tspan class="c10">A</tspan><tspan class="c9">P</tspan><tspan class="c3">S</tspan><tspan class="c13 b">F</tspan><tspan class="c8">I</tspan><tspan class="c11">R</tspan><tspan class="c9">S</tspan><tspan class="c14 b">P</tspan><tspan class="c5">G</tspan><tspan class="c11">LSFC</tspan><tspan class="c10">P</tspan><tspan class="c12">I</tspan><tspan class="c7">-</tspan><tspan class="c8">-</tspan><tspan class="c6">G</tspan><tspan class="c11">G</tspan><tspan class="c9">RG</tspan><tspan class="c4">R</tspan><tspan class="c9">LR</tspan><tspan class="c1">S</tspan><tspan class="c10">S</tspan><tspan class="c11">GL</tspan><tspan class="c8">G</tspan><tspan class="c2">M</tspan><tspan class="c9">ER</tspan><tspan class="c8">A</tspan><tspan class="c13">AA</tspan><tspan class="c19 b">PP</tspan><tspan class="c10">A</tspan><tspan class="c6">S</tspan><tspan class="c15">F</tspan><tspan class="c5">R</tspan><tspan class="c16">L</tspan><tspan class="c19 b">L</tspan><tspan class="c16">W</tspan><tspan class="c19 b">P</tspan><tspan class="c16">IL</tspan><tspan class="c19 b">G</tspan><tspan class="c16">G</tspan><tspan class="c11">A</tspan><tspan class="c19 b">L</tspan><tspan class="c15">S</tspan><tspan class="c18 b">L</tspan><tspan class="c10">A</tspan><tspan class="c16">L</tspan><tspan class="c15">V</tspan><tspan class="c17">L</tspan><tspan class="c16">GLL</tspan><tspan class="c15">S</tspan><tspan class="c11">G</tspan><tspan class="c18">F</tspan><tspan class="c18 b">L</tspan><tspan class="c16">V</tspan><tspan class="c15">W</tspan><tspan class="c17">RRC</tspan><tspan class="c19 b">R</tspan><tspan class="c16">RR</tspan><tspan class="c18 b">E</tspan><tspan class="c17">K</tspan><tspan class="c19 b">FTTPIEETGG</tspan><tspan class="c17 b">E</tspan><tspan class="c14">G</tspan><tspan class="c16">C</tspan><tspan class="c16 b">P</tspan><tspan class="c14">G</tspan><tspan class="c13">V</tspan><tspan class="c18 b">AL</tspan><tspan class="c17 b">I</tspan><tspan class="c16 b">Q</tspan></text>
<text class="sq" x="439.19" y="209.1"><tspan class="c10">D</tspan><tspan class="c4">C</tspan><tspan class="c0">P</tspan><tspan class="c6">G</tspan><tspan class="c5">D</tspan><tspan class="c7">W</tspan><tspan class="c11">A</tspan><tspan class="c6">E</tspan><tspan class="c5">VGG</tspan><tspan class="c1">P</tspan><tspan class="c11">T</tspan><tspan class="c8">GP</tspan><tspan class="c15 b">G</tspan><tspan class="c8">V</tspan><tspan class="c5">W</tspan><tspan class="c6">G</tspan><tspan class="c4">P</tspan><tspan class="c12 b">V</tspan><tspan class="c9">V</tspan><tspan class="c4">F</tspan><tspan class="c11 b">F</tspan><tspan class="c6">K</tspan><tspan class="c5">R</tspan><tspan class="c12 b">S</tspan><tspan class="c10">P</tspan><tspan class="c2">CF</tspan><tspan class="c10">G</tspan><tspan class="c8">R</tspan><tspan class="c6">P</tspan><tspan class="c5">Y</tspan><tspan class="c16 b">P</tspan><tspan class="c10">S</tspan><tspan class="c9">F</tspan><tspan class="c3">N</tspan><tspan class="c13 b">F</tspan><tspan class="c8">I</tspan><tspan class="c11">L</tspan><tspan class="c9">D</tspan><tspan class="c14 b">S</tspan><tspan class="c5">G</tspan><tspan class="c11">GFSC</tspan><tspan class="c10">P</tspan><tspan class="c12">V</tspan><tspan class="c7">F</tspan><tspan class="c8">F</tspan><tspan class="c6">G</tspan><tspan class="c11">G</tspan><tspan class="c9">GC</tspan><tspan class="c4">L</tspan><tspan class="c9">SP</tspan><tspan class="c1">K</tspan><tspan class="c10">F</tspan><tspan class="c11">GL</tspan><tspan class="c8">Q</tspan><tspan class="c2">V</tspan><tspan class="c9">ER</tspan><tspan class="c8">T</tspan><tspan class="c13">AA</tspan><tspan class="c19 b">PP</tspan><tspan class="c10">S</tspan><tspan class="c6">T</tspan><tspan class="c15">W</tspan><tspan class="c5">R</tspan><tspan class="c16">L</tspan><tspan class="c19 b">L</tspan><tspan class="c16">W</tspan><tspan class="c19 b">P</tspan><tspan class="c16">IL</tspan><tspan class="c19 b">G</tspan><tspan class="c16">G</tspan><tspan class="c11">V</tspan><tspan class="c19 b">L</tspan><tspan class="c15">S</tspan><tspan class="c18 b">L</tspan><tspan class="c10">V</tspan><tspan class="c16">L</tspan><tspan class="c15">V</tspan><tspan class="c17">L</tspan><tspan class="c16">GLL</tspan><tspan class="c15">S</tspan><tspan class="c11">A</tspan><tspan class="c18">F</tspan><tspan class="c18 b">L</tspan><tspan class="c16">V</tspan><tspan class="c15">W</tspan><tspan class="c17">RRC</tspan><tspan class="c19 b">R</tspan><tspan class="c16">RK</tspan><tspan class="c18 b">E</tspan><tspan class="c17">K</tspan><tspan class="c19 b">FTTPIEETGG</tspan><tspan class="c17 b">E</tspan><tspan class="c14">G</tspan><tspan class="c16">C</tspan><tspan class="c16 b">P</tspan><tspan class="c14">A</tspan><tspan class="c13">V</tspan><tspan class="c18 b">AL</tspan><tspan class="c17 b">I</tspan><tspan class="c16 b">Q</tspan></text>
<text class="sq" x="439.19" y="229.6"><tspan class="c10">-</tspan><tspan class="c4">-</tspan><tspan class="c0">V</tspan><tspan class="c6">G</tspan><tspan class="c5">S</tspan><tspan class="c7">G</tspan><tspan class="c11">T</tspan><tspan class="c6">G</tspan><tspan class="c5">GRG</tspan><tspan class="c1">E</tspan><tspan class="c11">A</tspan><tspan class="c8">DG</tspan><tspan class="c15 b">A</tspan><tspan class="c8">E</tspan><tspan class="c5">W</tspan><tspan class="c6">G</tspan><tspan class="c4">G</tspan><tspan class="c12 b">V</tspan><tspan class="c9">-</tspan><tspan class="c4">S</tspan><tspan class="c11 b">A</tspan><tspan class="c6">H</tspan><tspan class="c5">R</tspan><tspan class="c12 b">A</tspan><tspan class="c10">F</tspan><tspan class="c2">GR</tspan><tspan class="c10">G</tspan><tspan class="c8">P</tspan><tspan class="c6">P</tspan><tspan class="c5">S</tspan><tspan class="c16 b">P</tspan><tspan class="c10">P</tspan><tspan class="c9">-</tspan><tspan class="c3">N</tspan><tspan class="c13 b">L</tspan><tspan class="c8">T</tspan><tspan class="c11">R</tspan><tspan class="c9">R</tspan><tspan class="c14 b">P</tspan><tspan class="c5">G</tspan><tspan class="c11">LSFL</tspan><tspan class="c10">-</tspan><tspan class="c12">-</tspan><tspan class="c7">-</tspan><tspan class="c8">-</tspan><tspan class="c6">-</tspan><tspan class="c11">G</tspan><tspan class="c9">HL</tspan><tspan class="c4">S</tspan><tspan class="c9">PE</tspan><tspan class="c1">P</tspan><tspan class="c10">F</tspan><tspan class="c11">--</tspan><tspan class="c8">-</tspan><tspan class="c2">-</tspan><tspan class="c9">QT</tspan><tspan class="c8">A</tspan><tspan class="c13">AA</tspan><tspan class="c19 b">PP</tspan><tspan class="c10">A</tspan><tspan class="c6">P</tspan><tspan class="c15">F</tspan><tspan class="c5">G</tspan><tspan class="c16">L</tspan><tspan class="c19 b">L</tspan><tspan class="c16">W</tspan><tspan class="c19 b">P</tspan><tspan class="c16">IL</tspan><tspan class="c19 b">G</tspan><tspan class="c16">G</tspan><tspan class="c11">A</tspan><tspan class="c19 b">L</tspan><tspan class="c15">S</tspan><tspan class="c18 b">L</tspan><tspan class="c10">A</tspan><tspan class="c16">L</tspan><tspan class="c15">V</tspan><tspan class="c17">L</tspan><tspan class="c16">ALL</tspan><tspan class="c15">S</tspan><tspan class="c11">G</tspan><tspan class="c18">F</tspan><tspan class="c18 b">L</tspan><tspan class="c16">V</tspan><tspan class="c15">W</tspan><tspan class="c17">RRC</tspan><tspan class="c19 b">R</tspan><tspan class="c16">RR</tspan><tspan class="c18 b">E</tspan><tspan class="c17">K</tspan><tspan class="c19 b">FTTPIEETGG</tspan><tspan class="c17 b">E</tspan><tspan class="c14">G</tspan><tspan class="c16">C</tspan><tspan class="c16 b">P</tspan><tspan class="c14">G</tspan><tspan class="c13">V</tspan><tspan class="c18 b">AL</tspan><tspan class="c17 b">I</tspan><tspan class="c16 b">Q</tspan></text>
<text class="sq" x="439.19" y="250.1"><tspan class="c10">X</tspan><tspan class="c4">X</tspan><tspan class="c0">X</tspan><tspan class="c6">X</tspan><tspan class="c5">X</tspan><tspan class="c7">X</tspan><tspan class="c11">X</tspan><tspan class="c6">X</tspan><tspan class="c5">XXX</tspan><tspan class="c1">X</tspan><tspan class="c11">X</tspan><tspan class="c8">XX</tspan><tspan class="c15 b">X</tspan><tspan class="c8">X</tspan><tspan class="c5">X</tspan><tspan class="c6">X</tspan><tspan class="c4">X</tspan><tspan class="c12 b">X</tspan><tspan class="c9">X</tspan><tspan class="c4">X</tspan><tspan class="c11 b">X</tspan><tspan class="c6">X</tspan><tspan class="c5">X</tspan><tspan class="c12 b">X</tspan><tspan class="c10">X</tspan><tspan class="c2">XX</tspan><tspan class="c10">P</tspan><tspan class="c8">A</tspan><tspan class="c6">S</tspan><tspan class="c5">A</tspan><tspan class="c16 b">P</tspan><tspan class="c10">C</tspan><tspan class="c9">P</tspan><tspan class="c3">R</tspan><tspan class="c13 b">G</tspan><tspan class="c8">S</tspan><tspan class="c11">S</tspan><tspan class="c9">W</tspan><tspan class="c14 b">S</tspan><tspan class="c5">S</tspan><tspan class="c11">DLDK</tspan><tspan class="c10">C</tspan><tspan class="c12">M</tspan><tspan class="c7">D</tspan><tspan class="c8">C</tspan><tspan class="c6">S</tspan><tspan class="c11">S</tspan><tspan class="c9">CP</tspan><tspan class="c4">S</tspan><tspan class="c9">RP</tspan><tspan class="c1">Y</tspan><tspan class="c10">S</tspan><tspan class="c11">DF</tspan><tspan class="c8">C</tspan><tspan class="c2">L</tspan><tspan class="c9">GC</tspan><tspan class="c8">S</tspan><tspan class="c13">TV</tspan><tspan class="c19 b">PP</tspan><tspan class="c10">P</tspan><tspan class="c6">S</tspan><tspan class="c15">A</tspan><tspan class="c5">P</tspan><tspan class="c16">L</tspan><tspan class="c19 b">L</tspan><tspan class="c16">W</tspan><tspan class="c19 b">P</tspan><tspan class="c16">VL</tspan><tspan class="c19 b">G</tspan><tspan class="c16">G</tspan><tspan class="c11">S</tspan><tspan class="c19 b">L</tspan><tspan class="c15">G</tspan><tspan class="c18 b">L</tspan><tspan class="c10">A</tspan><tspan class="c16">L</tspan><tspan class="c15">T</tspan><tspan class="c17">L</tspan><tspan class="c16">GVL</tspan><tspan class="c15">S</tspan><tspan class="c11">G</tspan><tspan class="c18">L</tspan><tspan class="c18 b">L</tspan><tspan class="c16">V</tspan><tspan class="c15">W</tspan><tspan class="c17">RRC</tspan><tspan class="c19 b">R</tspan><tspan class="c16">RR</tspan><tspan class="c18 b">E</tspan><tspan class="c17">K</tspan><tspan class="c19 b">FTTPIEETGG</tspan><tspan class="c17 b">E</tspan><tspan class="c14">G</tspan><tspan class="c16">C</tspan><tspan class="c16 b">P</tspan><tspan class="c14">G</tspan><tspan class="c13">T</tspan><tspan class="c18 b">AL</tspan><tspan class="c17 b">I</tspan><tspan class="c16 b">R</tspan></text>
<text class="sq" x="439.19" y="270.6"><tspan class="c10">X</tspan><tspan class="c4">X</tspan><tspan class="c0">X</tspan><tspan class="c6">X</tspan><tspan class="c5">X</tspan><tspan class="c7">X</tspan><tspan class="c11">X</tspan><tspan class="c6">X</tspan><tspan class="c5">XXX</tspan><tspan class="c1">X</tspan><tspan class="c11">X</tspan><tspan class="c8">XX</tspan><tspan class="c15 b">X</tspan><tspan class="c8">X</tspan><tspan class="c5">X</tspan><tspan class="c6">X</tspan><tspan class="c4">X</tspan><tspan class="c12 b">X</tspan><tspan class="c9">X</tspan><tspan class="c4">X</tspan><tspan class="c11 b">X</tspan><tspan class="c6">X</tspan><tspan class="c5">X</tspan><tspan class="c12 b">X</tspan><tspan class="c10">X</tspan><tspan class="c2">XS</tspan><tspan class="c10">P</tspan><tspan class="c8">A</tspan><tspan class="c6">P</tspan><tspan class="c5">S</tspan><tspan class="c16 b">P</tspan><tspan class="c10">C</tspan><tspan class="c9">P</tspan><tspan class="c3">Q</tspan><tspan class="c13 b">G</tspan><tspan class="c8">S</tspan><tspan class="c11">S</tspan><tspan class="c9">W</tspan><tspan class="c14 b">S</tspan><tspan class="c5">P</tspan><tspan class="c11">DLDK</tspan><tspan class="c10">C</tspan><tspan class="c12">M</tspan><tspan class="c7">D</tspan><tspan class="c8">C</tspan><tspan class="c6">S</tspan><tspan class="c11">S</tspan><tspan class="c9">CP</tspan><tspan class="c4">A</tspan><tspan class="c9">RP</tspan><tspan class="c1">Y</tspan><tspan class="c10">S</tspan><tspan class="c11">DF</tspan><tspan class="c8">C</tspan><tspan class="c2">P</tspan><tspan class="c9">GC</tspan><tspan class="c8">T</tspan><tspan class="c13">TA</tspan><tspan class="c19 b">PP</tspan><tspan class="c10">P</tspan><tspan class="c6">P</tspan><tspan class="c15">F</tspan><tspan class="c5">P</tspan><tspan class="c16">L</tspan><tspan class="c19 b">L</tspan><tspan class="c16">W</tspan><tspan class="c19 b">P</tspan><tspan class="c16">VL</tspan><tspan class="c19 b">G</tspan><tspan class="c16">G</tspan><tspan class="c11">T</tspan><tspan class="c19 b">L</tspan><tspan class="c15">G</tspan><tspan class="c18 b">L</tspan><tspan class="c10">I</tspan><tspan class="c16">L</tspan><tspan class="c15">I</tspan><tspan class="c17">L</tspan><tspan class="c16">GLF</tspan><tspan class="c15">S</tspan><tspan class="c11">G</tspan><tspan class="c18">L</tspan><tspan class="c18 b">L</tspan><tspan class="c16">V</tspan><tspan class="c15">W</tspan><tspan class="c17">RQC</tspan><tspan class="c19 b">R</tspan><tspan class="c16">QK</tspan><tspan class="c18 b">E</tspan><tspan class="c17">K</tspan><tspan class="c19 b">FTTPIEETGG</tspan><tspan class="c17 b">E</tspan><tspan class="c14">G</tspan><tspan class="c16">C</tspan><tspan class="c16 b">P</tspan><tspan class="c14">G</tspan><tspan class="c13">T</tspan><tspan class="c18 b">AL</tspan><tspan class="c17 b">I</tspan><tspan class="c16 b">Q</tspan></text>
<text class="sq" x="439.19" y="291.1"><tspan class="c10">M</tspan><tspan class="c4">A</tspan><tspan class="c0">P</tspan><tspan class="c6">G</tspan><tspan class="c5">W</tspan><tspan class="c7">P</tspan><tspan class="c11">R</tspan><tspan class="c6">P</tspan><tspan class="c5">LPQ</tspan><tspan class="c1">L</tspan><tspan class="c11">L</tspan><tspan class="c8">VL</tspan><tspan class="c15 b">G</tspan><tspan class="c8">F</tspan><tspan class="c5">G</tspan><tspan class="c6">L</tspan><tspan class="c4">V</tspan><tspan class="c12 b">L</tspan><tspan class="c9">I</tspan><tspan class="c4">H</tspan><tspan class="c11 b">A</tspan><tspan class="c6">T</tspan><tspan class="c5">A</tspan><tspan class="c12 b">G</tspan><tspan class="c10">E</tspan><tspan class="c2">QA</tspan><tspan class="c10">P</tspan><tspan class="c8">G</tspan><tspan class="c6">N</tspan><tspan class="c5">A</tspan><tspan class="c16 b">P</tspan><tspan class="c10">C</tspan><tspan class="c9">S</tspan><tspan class="c3">S</tspan><tspan class="c13 b">G</tspan><tspan class="c8">S</tspan><tspan class="c11">S</tspan><tspan class="c9">W</tspan><tspan class="c14 b">S</tspan><tspan class="c5">A</tspan><tspan class="c11">DLDK</tspan><tspan class="c10">C</tspan><tspan class="c12">M</tspan><tspan class="c7">D</tspan><tspan class="c8">C</tspan><tspan class="c6">A</tspan><tspan class="c11">S</tspan><tspan class="c9">CP</tspan><tspan class="c4">A</tspan><tspan class="c9">RP</tspan><tspan class="c1">H</tspan><tspan class="c10">S</tspan><tspan class="c11">DF</tspan><tspan class="c8">C</tspan><tspan class="c2">L</tspan><tspan class="c9">GC</tspan><tspan class="c8">A</tspan><tspan class="c13">AA</tspan><tspan class="c19 b">PP</tspan><tspan class="c10">A</tspan><tspan class="c6">H</tspan><tspan class="c15">F</tspan><tspan class="c5">R</tspan><tspan class="c16">M</tspan><tspan class="c19 b">L</tspan><tspan class="c16">W</tspan><tspan class="c19 b">P</tspan><tspan class="c16">IL</tspan><tspan class="c19 b">G</tspan><tspan class="c16">G</tspan><tspan class="c11">A</tspan><tspan class="c19 b">L</tspan><tspan class="c15">S</tspan><tspan class="c18 b">L</tspan><tspan class="c10">A</tspan><tspan class="c16">L</tspan><tspan class="c15">V</tspan><tspan class="c17">L</tspan><tspan class="c16">ALV</tspan><tspan class="c15">S</tspan><tspan class="c11">G</tspan><tspan class="c18">F</tspan><tspan class="c18 b">L</tspan><tspan class="c16">V</tspan><tspan class="c15">W</tspan><tspan class="c17">RRC</tspan><tspan class="c19 b">R</tspan><tspan class="c16">RR</tspan><tspan class="c18 b">E</tspan><tspan class="c17">K</tspan><tspan class="c19 b">FTTPIEETGG</tspan><tspan class="c17 b">E</tspan><tspan class="c14">G</tspan><tspan class="c16">C</tspan><tspan class="c16 b">P</tspan><tspan class="c14">G</tspan><tspan class="c13">V</tspan><tspan class="c18 b">AL</tspan><tspan class="c17 b">I</tspan><tspan class="c16 b">Q</tspan></text>
<text class="sq" x="439.19" y="311.6"><tspan class="c10">M</tspan><tspan class="c4">A</tspan><tspan class="c0">S</tspan><tspan class="c6">A</tspan><tspan class="c5">W</tspan><tspan class="c7">P</tspan><tspan class="c11">R</tspan><tspan class="c6">S</tspan><tspan class="c5">LPQ</tspan><tspan class="c1">I</tspan><tspan class="c11">L</tspan><tspan class="c8">VL</tspan><tspan class="c15 b">G</tspan><tspan class="c8">F</tspan><tspan class="c5">G</tspan><tspan class="c6">L</tspan><tspan class="c4">V</tspan><tspan class="c12 b">L</tspan><tspan class="c9">M</tspan><tspan class="c4">R</tspan><tspan class="c11 b">A</tspan><tspan class="c6">A</tspan><tspan class="c5">A</tspan><tspan class="c12 b">G</tspan><tspan class="c10">E</tspan><tspan class="c2">QA</tspan><tspan class="c10">P</tspan><tspan class="c8">G</tspan><tspan class="c6">T</tspan><tspan class="c5">S</tspan><tspan class="c16 b">P</tspan><tspan class="c10">C</tspan><tspan class="c9">S</tspan><tspan class="c3">S</tspan><tspan class="c13 b">G</tspan><tspan class="c8">S</tspan><tspan class="c11">S</tspan><tspan class="c9">W</tspan><tspan class="c14 b">S</tspan><tspan class="c5">A</tspan><tspan class="c11">DLDK</tspan><tspan class="c10">C</tspan><tspan class="c12">M</tspan><tspan class="c7">D</tspan><tspan class="c8">C</tspan><tspan class="c6">A</tspan><tspan class="c11">S</tspan><tspan class="c9">CP</tspan><tspan class="c4">A</tspan><tspan class="c9">RP</tspan><tspan class="c1">H</tspan><tspan class="c10">S</tspan><tspan class="c11">DF</tspan><tspan class="c8">C</tspan><tspan class="c2">L</tspan><tspan class="c9">GC</tspan><tspan class="c8">A</tspan><tspan class="c13">AA</tspan><tspan class="c19 b">PP</tspan><tspan class="c10">A</tspan><tspan class="c6">H</tspan><tspan class="c15">F</tspan><tspan class="c5">R</tspan><tspan class="c16">L</tspan><tspan class="c19 b">L</tspan><tspan class="c16">W</tspan><tspan class="c19 b">P</tspan><tspan class="c16">IL</tspan><tspan class="c19 b">G</tspan><tspan class="c16">G</tspan><tspan class="c11">A</tspan><tspan class="c19 b">L</tspan><tspan class="c15">S</tspan><tspan class="c18 b">L</tspan><tspan class="c10">V</tspan><tspan class="c16">L</tspan><tspan class="c15">V</tspan><tspan class="c17">L</tspan><tspan class="c16">ALV</tspan><tspan class="c15">S</tspan><tspan class="c11">S</tspan><tspan class="c18">F</tspan><tspan class="c18 b">L</tspan><tspan class="c16">V</tspan><tspan class="c15">W</tspan><tspan class="c17">RRC</tspan><tspan class="c19 b">R</tspan><tspan class="c16">RR</tspan><tspan class="c18 b">E</tspan><tspan class="c17">K</tspan><tspan class="c19 b">FTTPIEETGG</tspan><tspan class="c17 b">E</tspan><tspan class="c14">G</tspan><tspan class="c16">C</tspan><tspan class="c16 b">P</tspan><tspan class="c14">G</tspan><tspan class="c13">V</tspan><tspan class="c18 b">AL</tspan><tspan class="c17 b">I</tspan><tspan class="c16 b">Q</tspan></text>
<text class="sq" x="439.19" y="332.1"><tspan class="c10">M</tspan><tspan class="c4">A</tspan><tspan class="c0">V</tspan><tspan class="c6">G</tspan><tspan class="c5">W</tspan><tspan class="c7">L</tspan><tspan class="c11">R</tspan><tspan class="c6">W</tspan><tspan class="c5">LLR</tspan><tspan class="c1">L</tspan><tspan class="c11">L</tspan><tspan class="c8">VL</tspan><tspan class="c15 b">G</tspan><tspan class="c8">L</tspan><tspan class="c5">M</tspan><tspan class="c6">L</tspan><tspan class="c4">A</tspan><tspan class="c12 b">L</tspan><tspan class="c9">P</tspan><tspan class="c4">R</tspan><tspan class="c11 b">A</tspan><tspan class="c6">A</tspan><tspan class="c5">A</tspan><tspan class="c12 b">G</tspan><tspan class="c10">E</tspan><tspan class="c2">QA</tspan><tspan class="c10">P</tspan><tspan class="c8">G</tspan><tspan class="c6">T</tspan><tspan class="c5">A</tspan><tspan class="c16 b">P</tspan><tspan class="c10">C</tspan><tspan class="c9">S</tspan><tspan class="c3">R</tspan><tspan class="c13 b">G</tspan><tspan class="c8">S</tspan><tspan class="c11">S</tspan><tspan class="c9">W</tspan><tspan class="c14 b">S</tspan><tspan class="c5">A</tspan><tspan class="c11">DLDK</tspan><tspan class="c10">C</tspan><tspan class="c12">M</tspan><tspan class="c7">D</tspan><tspan class="c8">C</tspan><tspan class="c6">A</tspan><tspan class="c11">S</tspan><tspan class="c9">CP</tspan><tspan class="c4">T</tspan><tspan class="c9">RP</tspan><tspan class="c1">H</tspan><tspan class="c10">S</tspan><tspan class="c11">DF</tspan><tspan class="c8">C</tspan><tspan class="c2">R</tspan><tspan class="c9">GC</tspan><tspan class="c8">A</tspan><tspan class="c13">AT</tspan><tspan class="c19 b">PP</tspan><tspan class="c10">A</tspan><tspan class="c6">P</tspan><tspan class="c15">F</tspan><tspan class="c5">Q</tspan><tspan class="c16">L</tspan><tspan class="c19 b">L</tspan><tspan class="c16">W</tspan><tspan class="c19 b">P</tspan><tspan class="c16">IL</tspan><tspan class="c19 b">G</tspan><tspan class="c16">G</tspan><tspan class="c11">A</tspan><tspan class="c19 b">L</tspan><tspan class="c15">S</tspan><tspan class="c18 b">L</tspan><tspan class="c10">A</tspan><tspan class="c16">L</tspan><tspan class="c15">V</tspan><tspan class="c17">L</tspan><tspan class="c16">ALL</tspan><tspan class="c15">S</tspan><tspan class="c11">G</tspan><tspan class="c18">F</tspan><tspan class="c18 b">L</tspan><tspan class="c16">V</tspan><tspan class="c15">W</tspan><tspan class="c17">RRC</tspan><tspan class="c19 b">R</tspan><tspan class="c16">RR</tspan><tspan class="c18 b">E</tspan><tspan class="c17">K</tspan><tspan class="c19 b">FTTPIEETGG</tspan><tspan class="c17 b">E</tspan><tspan class="c14">G</tspan><tspan class="c16">C</tspan><tspan class="c16 b">P</tspan><tspan class="c14">G</tspan><tspan class="c13">V</tspan><tspan class="c18 b">AL</tspan><tspan class="c17 b">I</tspan><tspan class="c16 b">Q</tspan></text>
<text class="sq" x="439.19" y="352.6"><tspan class="c10">M</tspan><tspan class="c4">A</tspan><tspan class="c0">L</tspan><tspan class="c6">G</tspan><tspan class="c5">S</tspan><tspan class="c7">L</tspan><tspan class="c11">R</tspan><tspan class="c6">P</tspan><tspan class="c5">MLR</tspan><tspan class="c1">L</tspan><tspan class="c11">L</tspan><tspan class="c8">VL</tspan><tspan class="c15 b">G</tspan><tspan class="c8">L</tspan><tspan class="c5">G</tspan><tspan class="c6">L</tspan><tspan class="c4">G</tspan><tspan class="c12 b">L</tspan><tspan class="c9">L</tspan><tspan class="c4">R</tspan><tspan class="c11 b">A</tspan><tspan class="c6">A</tspan><tspan class="c5">T</tspan><tspan class="c12 b">G</tspan><tspan class="c10">E</tspan><tspan class="c2">QA</tspan><tspan class="c10">P</tspan><tspan class="c8">G</tspan><tspan class="c6">T</tspan><tspan class="c5">A</tspan><tspan class="c16 b">P</tspan><tspan class="c10">C</tspan><tspan class="c9">S</tspan><tspan class="c3">S</tspan><tspan class="c13 b">G</tspan><tspan class="c8">S</tspan><tspan class="c11">S</tspan><tspan class="c9">W</tspan><tspan class="c14 b">S</tspan><tspan class="c5">A</tspan><tspan class="c11">DLDK</tspan><tspan class="c10">C</tspan><tspan class="c12">M</tspan><tspan class="c7">D</tspan><tspan class="c8">C</tspan><tspan class="c6">A</tspan><tspan class="c11">S</tspan><tspan class="c9">CP</tspan><tspan class="c4">A</tspan><tspan class="c9">RP</tspan><tspan class="c1">H</tspan><tspan class="c10">S</tspan><tspan class="c11">DF</tspan><tspan class="c8">C</tspan><tspan class="c2">L</tspan><tspan class="c9">GC</tspan><tspan class="c8">A</tspan><tspan class="c13">SA</tspan><tspan class="c19 b">PP</tspan><tspan class="c10">A</tspan><tspan class="c6">P</tspan><tspan class="c15">F</tspan><tspan class="c5">R</tspan><tspan class="c16">L</tspan><tspan class="c19 b">L</tspan><tspan class="c16">W</tspan><tspan class="c19 b">P</tspan><tspan class="c16">IL</tspan><tspan class="c19 b">G</tspan><tspan class="c16">G</tspan><tspan class="c11">A</tspan><tspan class="c19 b">L</tspan><tspan class="c15">S</tspan><tspan class="c18 b">L</tspan><tspan class="c10">A</tspan><tspan class="c16">L</tspan><tspan class="c15">V</tspan><tspan class="c17">L</tspan><tspan class="c16">ALL</tspan><tspan class="c15">S</tspan><tspan class="c11">A</tspan><tspan class="c18">F</tspan><tspan class="c18 b">L</tspan><tspan class="c16">V</tspan><tspan class="c15">W</tspan><tspan class="c17">RRC</tspan><tspan class="c19 b">R</tspan><tspan class="c16">RR</tspan><tspan class="c18 b">E</tspan><tspan class="c17">K</tspan><tspan class="c19 b">FTTPIEETGG</tspan><tspan class="c17 b">E</tspan><tspan class="c14">G</tspan><tspan class="c16">C</tspan><tspan class="c16 b">P</tspan><tspan class="c14">G</tspan><tspan class="c13">V</tspan><tspan class="c18 b">AL</tspan><tspan class="c17 b">I</tspan><tspan class="c16 b">Q</tspan></text>
<text class="sq" x="439.19" y="373.1"><tspan class="c10">M</tspan><tspan class="c4">A</tspan><tspan class="c0">C</tspan><tspan class="c6">G</tspan><tspan class="c5">S</tspan><tspan class="c7">L</tspan><tspan class="c11">R</tspan><tspan class="c6">P</tspan><tspan class="c5">MLR</tspan><tspan class="c1">I</tspan><tspan class="c11">L</tspan><tspan class="c8">VL</tspan><tspan class="c15 b">G</tspan><tspan class="c8">L</tspan><tspan class="c5">G</tspan><tspan class="c6">L</tspan><tspan class="c4">A</tspan><tspan class="c12 b">L</tspan><tspan class="c9">L</tspan><tspan class="c4">R</tspan><tspan class="c11 b">A</tspan><tspan class="c6">A</tspan><tspan class="c5">S</tspan><tspan class="c12 b">G</tspan><tspan class="c10">E</tspan><tspan class="c2">QA</tspan><tspan class="c10">P</tspan><tspan class="c8">G</tspan><tspan class="c6">T</tspan><tspan class="c5">A</tspan><tspan class="c16 b">P</tspan><tspan class="c10">C</tspan><tspan class="c9">S</tspan><tspan class="c3">S</tspan><tspan class="c13 b">G</tspan><tspan class="c8">S</tspan><tspan class="c11">S</tspan><tspan class="c9">W</tspan><tspan class="c14 b">S</tspan><tspan class="c5">A</tspan><tspan class="c11">DLDK</tspan><tspan class="c10">C</tspan><tspan class="c12">M</tspan><tspan class="c7">D</tspan><tspan class="c8">C</tspan><tspan class="c6">A</tspan><tspan class="c11">S</tspan><tspan class="c9">CP</tspan><tspan class="c4">A</tspan><tspan class="c9">RP</tspan><tspan class="c1">H</tspan><tspan class="c10">S</tspan><tspan class="c11">DF</tspan><tspan class="c8">C</tspan><tspan class="c2">L</tspan><tspan class="c9">GC</tspan><tspan class="c8">A</tspan><tspan class="c13">AA</tspan><tspan class="c19 b">PP</tspan><tspan class="c10">A</tspan><tspan class="c6">P</tspan><tspan class="c15">F</tspan><tspan class="c5">R</tspan><tspan class="c16">L</tspan><tspan class="c19 b">L</tspan><tspan class="c16">W</tspan><tspan class="c19 b">P</tspan><tspan class="c16">IL</tspan><tspan class="c19 b">G</tspan><tspan class="c16">G</tspan><tspan class="c11">A</tspan><tspan class="c19 b">L</tspan><tspan class="c15">S</tspan><tspan class="c18 b">L</tspan><tspan class="c10">A</tspan><tspan class="c16">L</tspan><tspan class="c15">V</tspan><tspan class="c17">L</tspan><tspan class="c16">GLL</tspan><tspan class="c15">S</tspan><tspan class="c11">G</tspan><tspan class="c18">F</tspan><tspan class="c18 b">L</tspan><tspan class="c16">V</tspan><tspan class="c15">W</tspan><tspan class="c17">RRC</tspan><tspan class="c19 b">R</tspan><tspan class="c16">RR</tspan><tspan class="c18 b">E</tspan><tspan class="c17">K</tspan><tspan class="c19 b">FTTPIEETGG</tspan><tspan class="c17 b">E</tspan><tspan class="c14">G</tspan><tspan class="c16">C</tspan><tspan class="c16 b">P</tspan><tspan class="c14">A</tspan><tspan class="c13">V</tspan><tspan class="c18 b">AL</tspan><tspan class="c17 b">I</tspan><tspan class="c16 b">Q</tspan></text>
<text class="sq" x="439.19" y="393.6"><tspan class="c10">M</tspan><tspan class="c4">A</tspan><tspan class="c0">P</tspan><tspan class="c6">C</tspan><tspan class="c5">P</tspan><tspan class="c7">L</tspan><tspan class="c11">R</tspan><tspan class="c6">P</tspan><tspan class="c5">LLR</tspan><tspan class="c1">L</tspan><tspan class="c11">L</tspan><tspan class="c8">VL</tspan><tspan class="c15 b">G</tspan><tspan class="c8">L</tspan><tspan class="c5">G</tspan><tspan class="c6">L</tspan><tspan class="c4">A</tspan><tspan class="c12 b">L</tspan><tspan class="c9">L</tspan><tspan class="c4">R</tspan><tspan class="c11 b">A</tspan><tspan class="c6">A</tspan><tspan class="c5">A</tspan><tspan class="c12 b">G</tspan><tspan class="c10">E</tspan><tspan class="c2">RV</tspan><tspan class="c10">P</tspan><tspan class="c8">G</tspan><tspan class="c6">T</tspan><tspan class="c5">T</tspan><tspan class="c16 b">P</tspan><tspan class="c10">C</tspan><tspan class="c9">S</tspan><tspan class="c3">R</tspan><tspan class="c13 b">G</tspan><tspan class="c8">T</tspan><tspan class="c11">S</tspan><tspan class="c9">W</tspan><tspan class="c14 b">S</tspan><tspan class="c5">A</tspan><tspan class="c11">DLDK</tspan><tspan class="c10">C</tspan><tspan class="c12">M</tspan><tspan class="c7">D</tspan><tspan class="c8">C</tspan><tspan class="c6">A</tspan><tspan class="c11">S</tspan><tspan class="c9">CR</tspan><tspan class="c4">A</tspan><tspan class="c9">RP</tspan><tspan class="c1">H</tspan><tspan class="c10">S</tspan><tspan class="c11">DF</tspan><tspan class="c8">C</tspan><tspan class="c2">L</tspan><tspan class="c9">GC</tspan><tspan class="c8">T</tspan><tspan class="c13">AA</tspan><tspan class="c19 b">PP</tspan><tspan class="c10">A</tspan><tspan class="c6">P</tspan><tspan class="c15">F</tspan><tspan class="c5">R</tspan><tspan class="c16">L</tspan><tspan class="c19 b">L</tspan><tspan class="c16">W</tspan><tspan class="c19 b">P</tspan><tspan class="c16">IL</tspan><tspan class="c19 b">G</tspan><tspan class="c16">G</tspan><tspan class="c11">A</tspan><tspan class="c19 b">L</tspan><tspan class="c15">G</tspan><tspan class="c18 b">L</tspan><tspan class="c10">A</tspan><tspan class="c16">L</tspan><tspan class="c15">V</tspan><tspan class="c17">L</tspan><tspan class="c16">GLL</tspan><tspan class="c15">S</tspan><tspan class="c11">G</tspan><tspan class="c18">F</tspan><tspan class="c18 b">L</tspan><tspan class="c16">V</tspan><tspan class="c15">W</tspan><tspan class="c17">RRC</tspan><tspan class="c19 b">R</tspan><tspan class="c16">RR</tspan><tspan class="c18 b">E</tspan><tspan class="c17">K</tspan><tspan class="c19 b">FTTPIEETGG</tspan><tspan class="c17 b">E</tspan><tspan class="c14">S</tspan><tspan class="c16">C</tspan><tspan class="c16 b">P</tspan><tspan class="c14">G</tspan><tspan class="c13">V</tspan><tspan class="c18 b">AL</tspan><tspan class="c17 b">I</tspan><tspan class="c16 b">Q</tspan></text>
<text class="sq" x="439.19" y="414.1"><tspan class="c10">M</tspan><tspan class="c4">A</tspan><tspan class="c0">H</tspan><tspan class="c6">C</tspan><tspan class="c5">P</tspan><tspan class="c7">L</tspan><tspan class="c11">R</tspan><tspan class="c6">P</tspan><tspan class="c5">LLR</tspan><tspan class="c1">L</tspan><tspan class="c11">L</tspan><tspan class="c8">VL</tspan><tspan class="c15 b">G</tspan><tspan class="c8">L</tspan><tspan class="c5">G</tspan><tspan class="c6">L</tspan><tspan class="c4">A</tspan><tspan class="c12 b">L</tspan><tspan class="c9">L</tspan><tspan class="c4">R</tspan><tspan class="c11 b">A</tspan><tspan class="c6">A</tspan><tspan class="c5">A</tspan><tspan class="c12 b">G</tspan><tspan class="c10">E</tspan><tspan class="c2">RV</tspan><tspan class="c10">P</tspan><tspan class="c8">G</tspan><tspan class="c6">T</tspan><tspan class="c5">T</tspan><tspan class="c16 b">P</tspan><tspan class="c10">C</tspan><tspan class="c9">S</tspan><tspan class="c3">R</tspan><tspan class="c13 b">G</tspan><tspan class="c8">T</tspan><tspan class="c11">S</tspan><tspan class="c9">W</tspan><tspan class="c14 b">S</tspan><tspan class="c5">A</tspan><tspan class="c11">DLDK</tspan><tspan class="c10">C</tspan><tspan class="c12">M</tspan><tspan class="c7">D</tspan><tspan class="c8">C</tspan><tspan class="c6">A</tspan><tspan class="c11">S</tspan><tspan class="c9">CR</tspan><tspan class="c4">A</tspan><tspan class="c9">RP</tspan><tspan class="c1">H</tspan><tspan class="c10">S</tspan><tspan class="c11">DF</tspan><tspan class="c8">C</tspan><tspan class="c2">L</tspan><tspan class="c9">GC</tspan><tspan class="c8">T</tspan><tspan class="c13">AA</tspan><tspan class="c19 b">PP</tspan><tspan class="c10">A</tspan><tspan class="c6">P</tspan><tspan class="c15">F</tspan><tspan class="c5">R</tspan><tspan class="c16">L</tspan><tspan class="c19 b">L</tspan><tspan class="c16">W</tspan><tspan class="c19 b">P</tspan><tspan class="c16">IL</tspan><tspan class="c19 b">G</tspan><tspan class="c16">G</tspan><tspan class="c11">A</tspan><tspan class="c19 b">L</tspan><tspan class="c15">G</tspan><tspan class="c18 b">L</tspan><tspan class="c10">A</tspan><tspan class="c16">L</tspan><tspan class="c15">V</tspan><tspan class="c17">L</tspan><tspan class="c16">GLL</tspan><tspan class="c15">S</tspan><tspan class="c11">G</tspan><tspan class="c18">F</tspan><tspan class="c18 b">L</tspan><tspan class="c16">V</tspan><tspan class="c15">W</tspan><tspan class="c17">RRC</tspan><tspan class="c19 b">R</tspan><tspan class="c16">RR</tspan><tspan class="c18 b">E</tspan><tspan class="c17">K</tspan><tspan class="c19 b">FTTPIEETGG</tspan><tspan class="c17 b">E</tspan><tspan class="c14">S</tspan><tspan class="c16">C</tspan><tspan class="c16 b">P</tspan><tspan class="c14">G</tspan><tspan class="c13">V</tspan><tspan class="c18 b">AL</tspan><tspan class="c17 b">I</tspan><tspan class="c16 b">Q</tspan></text>
<text class="sq" x="439.19" y="434.6"><tspan class="c10">M</tspan><tspan class="c4">V</tspan><tspan class="c0">L</tspan><tspan class="c6">G</tspan><tspan class="c5">P</tspan><tspan class="c7">L</tspan><tspan class="c11">R</tspan><tspan class="c6">P</tspan><tspan class="c5">LPR</tspan><tspan class="c1">L</tspan><tspan class="c11">L</tspan><tspan class="c8">VL</tspan><tspan class="c15 b">G</tspan><tspan class="c8">L</tspan><tspan class="c5">G</tspan><tspan class="c6">L</tspan><tspan class="c4">A</tspan><tspan class="c12 b">L</tspan><tspan class="c9">L</tspan><tspan class="c4">G</tspan><tspan class="c11 b">A</tspan><tspan class="c6">A</tspan><tspan class="c5">A</tspan><tspan class="c12 b">G</tspan><tspan class="c10">E</tspan><tspan class="c2">RV</tspan><tspan class="c10">P</tspan><tspan class="c8">G</tspan><tspan class="c6">T</tspan><tspan class="c5">T</tspan><tspan class="c16 b">P</tspan><tspan class="c10">C</tspan><tspan class="c9">S</tspan><tspan class="c3">R</tspan><tspan class="c13 b">G</tspan><tspan class="c8">S</tspan><tspan class="c11">S</tspan><tspan class="c9">W</tspan><tspan class="c14 b">S</tspan><tspan class="c5">A</tspan><tspan class="c11">DLDK</tspan><tspan class="c10">C</tspan><tspan class="c12">M</tspan><tspan class="c7">D</tspan><tspan class="c8">C</tspan><tspan class="c6">A</tspan><tspan class="c11">S</tspan><tspan class="c9">CP</tspan><tspan class="c4">A</tspan><tspan class="c9">RP</tspan><tspan class="c1">H</tspan><tspan class="c10">S</tspan><tspan class="c11">DF</tspan><tspan class="c8">C</tspan><tspan class="c2">L</tspan><tspan class="c9">GC</tspan><tspan class="c8">A</tspan><tspan class="c13">AA</tspan><tspan class="c19 b">PP</tspan><tspan class="c10">A</tspan><tspan class="c6">S</tspan><tspan class="c15">F</tspan><tspan class="c5">P</tspan><tspan class="c16">L</tspan><tspan class="c19 b">L</tspan><tspan class="c16">W</tspan><tspan class="c19 b">P</tspan><tspan class="c16">IL</tspan><tspan class="c19 b">G</tspan><tspan class="c16">G</tspan><tspan class="c11">A</tspan><tspan class="c19 b">L</tspan><tspan class="c15">S</tspan><tspan class="c18 b">L</tspan><tspan class="c10">A</tspan><tspan class="c16">L</tspan><tspan class="c15">V</tspan><tspan class="c17">L</tspan><tspan class="c16">GLL</tspan><tspan class="c15">S</tspan><tspan class="c11">G</tspan><tspan class="c18">F</tspan><tspan class="c18 b">L</tspan><tspan class="c16">V</tspan><tspan class="c15">W</tspan><tspan class="c17">RRC</tspan><tspan class="c19 b">R</tspan><tspan class="c16">RR</tspan><tspan class="c18 b">E</tspan><tspan class="c17">K</tspan><tspan class="c19 b">FTTPIEETGG</tspan><tspan class="c17 b">E</tspan><tspan class="c14">G</tspan><tspan class="c16">C</tspan><tspan class="c16 b">P</tspan><tspan class="c14">G</tspan><tspan class="c13">V</tspan><tspan class="c18 b">AL</tspan><tspan class="c17 b">I</tspan><tspan class="c16 b">Q</tspan></text>
<text class="sq" x="439.19" y="455.1"><tspan class="c10">M</tspan><tspan class="c4">L</tspan><tspan class="c0">P</tspan><tspan class="c6">G</tspan><tspan class="c5">P</tspan><tspan class="c7">L</tspan><tspan class="c11">R</tspan><tspan class="c6">P</tspan><tspan class="c5">LPR</tspan><tspan class="c1">L</tspan><tspan class="c11">L</tspan><tspan class="c8">VL</tspan><tspan class="c15 b">G</tspan><tspan class="c8">L</tspan><tspan class="c5">G</tspan><tspan class="c6">L</tspan><tspan class="c4">A</tspan><tspan class="c12 b">L</tspan><tspan class="c9">L</tspan><tspan class="c4">G</tspan><tspan class="c11 b">A</tspan><tspan class="c6">A</tspan><tspan class="c5">G</tspan><tspan class="c12 b">G</tspan><tspan class="c10">E</tspan><tspan class="c2">RV</tspan><tspan class="c10">P</tspan><tspan class="c8">G</tspan><tspan class="c6">T</tspan><tspan class="c5">T</tspan><tspan class="c16 b">P</tspan><tspan class="c10">C</tspan><tspan class="c9">S</tspan><tspan class="c3">R</tspan><tspan class="c13 b">G</tspan><tspan class="c8">S</tspan><tspan class="c11">S</tspan><tspan class="c9">W</tspan><tspan class="c14 b">S</tspan><tspan class="c5">A</tspan><tspan class="c11">DLDK</tspan><tspan class="c10">C</tspan><tspan class="c12">M</tspan><tspan class="c7">D</tspan><tspan class="c8">C</tspan><tspan class="c6">A</tspan><tspan class="c11">S</tspan><tspan class="c9">CP</tspan><tspan class="c4">A</tspan><tspan class="c9">RP</tspan><tspan class="c1">H</tspan><tspan class="c10">S</tspan><tspan class="c11">DF</tspan><tspan class="c8">C</tspan><tspan class="c2">L</tspan><tspan class="c9">GC</tspan><tspan class="c8">A</tspan><tspan class="c13">AS</tspan><tspan class="c19 b">PP</tspan><tspan class="c10">T</tspan><tspan class="c6">S</tspan><tspan class="c15">F</tspan><tspan class="c5">P</tspan><tspan class="c16">L</tspan><tspan class="c19 b">L</tspan><tspan class="c16">W</tspan><tspan class="c19 b">P</tspan><tspan class="c16">IL</tspan><tspan class="c19 b">G</tspan><tspan class="c16">G</tspan><tspan class="c11">A</tspan><tspan class="c19 b">L</tspan><tspan class="c15">S</tspan><tspan class="c18 b">L</tspan><tspan class="c10">A</tspan><tspan class="c16">L</tspan><tspan class="c15">V</tspan><tspan class="c17">L</tspan><tspan class="c16">GLL</tspan><tspan class="c15">S</tspan><tspan class="c11">G</tspan><tspan class="c18">F</tspan><tspan class="c18 b">L</tspan><tspan class="c16">V</tspan><tspan class="c15">W</tspan><tspan class="c17">RRC</tspan><tspan class="c19 b">R</tspan><tspan class="c16">RR</tspan><tspan class="c18 b">E</tspan><tspan class="c17">K</tspan><tspan class="c19 b">FTTPIEETGG</tspan><tspan class="c17 b">E</tspan><tspan class="c14">G</tspan><tspan class="c16">C</tspan><tspan class="c16 b">P</tspan><tspan class="c14">G</tspan><tspan class="c13">V</tspan><tspan class="c18 b">AL</tspan><tspan class="c17 b">I</tspan><tspan class="c16 b">Q</tspan></text>
<text class="sq" x="439.19" y="475.6"><tspan class="c10">M</tspan><tspan class="c4">I</tspan><tspan class="c0">L</tspan><tspan class="c6">T</tspan><tspan class="c5">P</tspan><tspan class="c7">L</tspan><tspan class="c11">R</tspan><tspan class="c6">P</tspan><tspan class="c5">LLR</tspan><tspan class="c1">L</tspan><tspan class="c11">L</tspan><tspan class="c8">VL</tspan><tspan class="c15 b">G</tspan><tspan class="c8">L</tspan><tspan class="c5">G</tspan><tspan class="c6">L</tspan><tspan class="c4">V</tspan><tspan class="c12 b">L</tspan><tspan class="c9">L</tspan><tspan class="c4">R</tspan><tspan class="c11 b">A</tspan><tspan class="c6">T</tspan><tspan class="c5">A</tspan><tspan class="c12 b">G</tspan><tspan class="c10">E</tspan><tspan class="c2">RV</tspan><tspan class="c10">P</tspan><tspan class="c8">G</tspan><tspan class="c6">T</tspan><tspan class="c5">T</tspan><tspan class="c16 b">P</tspan><tspan class="c10">C</tspan><tspan class="c9">S</tspan><tspan class="c3">R</tspan><tspan class="c13 b">G</tspan><tspan class="c8">S</tspan><tspan class="c11">S</tspan><tspan class="c9">W</tspan><tspan class="c14 b">S</tspan><tspan class="c5">A</tspan><tspan class="c11">DLDK</tspan><tspan class="c10">C</tspan><tspan class="c12">M</tspan><tspan class="c7">D</tspan><tspan class="c8">C</tspan><tspan class="c6">A</tspan><tspan class="c11">S</tspan><tspan class="c9">CP</tspan><tspan class="c4">A</tspan><tspan class="c9">RP</tspan><tspan class="c1">H</tspan><tspan class="c10">S</tspan><tspan class="c11">DF</tspan><tspan class="c8">C</tspan><tspan class="c2">L</tspan><tspan class="c9">GC</tspan><tspan class="c8">A</tspan><tspan class="c13">AA</tspan><tspan class="c19 b">PP</tspan><tspan class="c10">A</tspan><tspan class="c6">S</tspan><tspan class="c15">F</tspan><tspan class="c5">R</tspan><tspan class="c16">L</tspan><tspan class="c19 b">L</tspan><tspan class="c16">W</tspan><tspan class="c19 b">P</tspan><tspan class="c16">IL</tspan><tspan class="c19 b">G</tspan><tspan class="c16">G</tspan><tspan class="c11">A</tspan><tspan class="c19 b">L</tspan><tspan class="c15">S</tspan><tspan class="c18 b">L</tspan><tspan class="c10">V</tspan><tspan class="c16">L</tspan><tspan class="c15">V</tspan><tspan class="c17">L</tspan><tspan class="c16">GLL</tspan><tspan class="c15">S</tspan><tspan class="c11">G</tspan><tspan class="c18">F</tspan><tspan class="c18 b">L</tspan><tspan class="c16">V</tspan><tspan class="c15">W</tspan><tspan class="c17">RRC</tspan><tspan class="c19 b">R</tspan><tspan class="c16">RR</tspan><tspan class="c18 b">E</tspan><tspan class="c17">K</tspan><tspan class="c19 b">FTTPIEETGG</tspan><tspan class="c17 b">E</tspan><tspan class="c14">G</tspan><tspan class="c16">C</tspan><tspan class="c16 b">P</tspan><tspan class="c14">G</tspan><tspan class="c13">V</tspan><tspan class="c18 b">AL</tspan><tspan class="c17 b">I</tspan><tspan class="c16 b">Q</tspan></text>
<text class="sq" x="439.19" y="496.1"><tspan class="c10">M</tspan><tspan class="c4">A</tspan><tspan class="c0">L</tspan><tspan class="c6">G</tspan><tspan class="c5">P</tspan><tspan class="c7">L</tspan><tspan class="c11">R</tspan><tspan class="c6">P</tspan><tspan class="c5">LLR</tspan><tspan class="c1">L</tspan><tspan class="c11">L</tspan><tspan class="c8">VL</tspan><tspan class="c15 b">G</tspan><tspan class="c8">L</tspan><tspan class="c5">W</tspan><tspan class="c6">L</tspan><tspan class="c4">A</tspan><tspan class="c12 b">L</tspan><tspan class="c9">L</tspan><tspan class="c4">C</tspan><tspan class="c11 b">A</tspan><tspan class="c6">A</tspan><tspan class="c5">A</tspan><tspan class="c12 b">G</tspan><tspan class="c10">E</tspan><tspan class="c2">RT</tspan><tspan class="c10">P</tspan><tspan class="c8">G</tspan><tspan class="c6">A</tspan><tspan class="c5">A</tspan><tspan class="c16 b">P</tspan><tspan class="c10">C</tspan><tspan class="c9">P</tspan><tspan class="c3">R</tspan><tspan class="c13 b">G</tspan><tspan class="c8">T</tspan><tspan class="c11">S</tspan><tspan class="c9">W</tspan><tspan class="c14 b">S</tspan><tspan class="c5">S</tspan><tspan class="c11">DLDK</tspan><tspan class="c10">C</tspan><tspan class="c12">M</tspan><tspan class="c7">D</tspan><tspan class="c8">C</tspan><tspan class="c6">A</tspan><tspan class="c11">S</tspan><tspan class="c9">CP</tspan><tspan class="c4">V</tspan><tspan class="c9">RP</tspan><tspan class="c1">R</tspan><tspan class="c10">S</tspan><tspan class="c11">DF</tspan><tspan class="c8">C</tspan><tspan class="c2">L</tspan><tspan class="c9">GC</tspan><tspan class="c8">A</tspan><tspan class="c13">TA</tspan><tspan class="c19 b">PP</tspan><tspan class="c10">A</tspan><tspan class="c6">P</tspan><tspan class="c15">F</tspan><tspan class="c5">P</tspan><tspan class="c16">L</tspan><tspan class="c19 b">L</tspan><tspan class="c16">W</tspan><tspan class="c19 b">P</tspan><tspan class="c16">IL</tspan><tspan class="c19 b">G</tspan><tspan class="c16">G</tspan><tspan class="c11">A</tspan><tspan class="c19 b">L</tspan><tspan class="c15">S</tspan><tspan class="c18 b">L</tspan><tspan class="c10">A</tspan><tspan class="c16">L</tspan><tspan class="c15">V</tspan><tspan class="c17">V</tspan><tspan class="c16">GLL</tspan><tspan class="c15">S</tspan><tspan class="c11">G</tspan><tspan class="c18">F</tspan><tspan class="c18 b">L</tspan><tspan class="c16">V</tspan><tspan class="c15">W</tspan><tspan class="c17">RRC</tspan><tspan class="c19 b">R</tspan><tspan class="c16">RR</tspan><tspan class="c18 b">E</tspan><tspan class="c17">K</tspan><tspan class="c19 b">FTTPIEETGG</tspan><tspan class="c17 b">E</tspan><tspan class="c14">G</tspan><tspan class="c16">C</tspan><tspan class="c16 b">P</tspan><tspan class="c14">G</tspan><tspan class="c13">V</tspan><tspan class="c18 b">AL</tspan><tspan class="c17 b">I</tspan><tspan class="c16 b">Q</tspan></text>
<text class="sq" x="439.19" y="516.6"><tspan class="c10">M</tspan><tspan class="c4">A</tspan><tspan class="c0">L</tspan><tspan class="c6">A</tspan><tspan class="c5">P</tspan><tspan class="c7">L</tspan><tspan class="c11">R</tspan><tspan class="c6">P</tspan><tspan class="c5">LPR</tspan><tspan class="c1">L</tspan><tspan class="c11">L</tspan><tspan class="c8">VL</tspan><tspan class="c15 b">G</tspan><tspan class="c8">L</tspan><tspan class="c5">G</tspan><tspan class="c6">L</tspan><tspan class="c4">A</tspan><tspan class="c12 b">L</tspan><tspan class="c9">L</tspan><tspan class="c4">S</tspan><tspan class="c11 b">A</tspan><tspan class="c6">A</tspan><tspan class="c5">A</tspan><tspan class="c12 b">G</tspan><tspan class="c10">E</tspan><tspan class="c2">PV</tspan><tspan class="c10">S</tspan><tspan class="c8">G</tspan><tspan class="c6">T</tspan><tspan class="c5">T</tspan><tspan class="c16 b">P</tspan><tspan class="c10">C</tspan><tspan class="c9">S</tspan><tspan class="c3">R</tspan><tspan class="c13 b">G</tspan><tspan class="c8">S</tspan><tspan class="c11">S</tspan><tspan class="c9">W</tspan><tspan class="c14 b">S</tspan><tspan class="c5">E</tspan><tspan class="c11">DLDK</tspan><tspan class="c10">C</tspan><tspan class="c12">M</tspan><tspan class="c7">N</tspan><tspan class="c8">C</tspan><tspan class="c6">E</tspan><tspan class="c11">S</tspan><tspan class="c9">CP</tspan><tspan class="c4">A</tspan><tspan class="c9">LP</tspan><tspan class="c1">H</tspan><tspan class="c10">S</tspan><tspan class="c11">DF</tspan><tspan class="c8">C</tspan><tspan class="c2">R</tspan><tspan class="c9">GC</tspan><tspan class="c8">A</tspan><tspan class="c13">GA</tspan><tspan class="c19 b">PS</tspan><tspan class="c10">A</tspan><tspan class="c6">S</tspan><tspan class="c15">F</tspan><tspan class="c5">G</tspan><tspan class="c16">L</tspan><tspan class="c19 b">L</tspan><tspan class="c16">W</tspan><tspan class="c19 b">P</tspan><tspan class="c16">IL</tspan><tspan class="c19 b">G</tspan><tspan class="c16">G</tspan><tspan class="c11">A</tspan><tspan class="c19 b">L</tspan><tspan class="c15">S</tspan><tspan class="c18 b">L</tspan><tspan class="c10">A</tspan><tspan class="c16">L</tspan><tspan class="c15">V</tspan><tspan class="c17">L</tspan><tspan class="c16">GLL</tspan><tspan class="c15">S</tspan><tspan class="c11">G</tspan><tspan class="c18">F</tspan><tspan class="c18 b">L</tspan><tspan class="c16">V</tspan><tspan class="c15">W</tspan><tspan class="c17">RRC</tspan><tspan class="c19 b">R</tspan><tspan class="c16">RR</tspan><tspan class="c18 b">E</tspan><tspan class="c17">K</tspan><tspan class="c19 b">FTTPIEETGG</tspan><tspan class="c17 b">E</tspan><tspan class="c14">G</tspan><tspan class="c16">C</tspan><tspan class="c16 b">P</tspan><tspan class="c14">G</tspan><tspan class="c13">A</tspan><tspan class="c18 b">AL</tspan><tspan class="c17 b">I</tspan><tspan class="c16 b">Q</tspan></text>
<text class="sq" x="439.19" y="537.1"><tspan class="c10">M</tspan><tspan class="c4">I</tspan><tspan class="c0">P</tspan><tspan class="c6">G</tspan><tspan class="c5">P</tspan><tspan class="c7">L</tspan><tspan class="c11">R</tspan><tspan class="c6">P</tspan><tspan class="c5">RLR</tspan><tspan class="c1">F</tspan><tspan class="c11">L</tspan><tspan class="c8">VL</tspan><tspan class="c15 b">G</tspan><tspan class="c8">L</tspan><tspan class="c5">G</tspan><tspan class="c6">L</tspan><tspan class="c4">A</tspan><tspan class="c12 b">L</tspan><tspan class="c9">L</tspan><tspan class="c4">R</tspan><tspan class="c11 b">A</tspan><tspan class="c6">A</tspan><tspan class="c5">A</tspan><tspan class="c12 b">G</tspan><tspan class="c10">E</tspan><tspan class="c2">PV</tspan><tspan class="c10">P</tspan><tspan class="c8">G</tspan><tspan class="c6">I</tspan><tspan class="c5">T</tspan><tspan class="c16 b">P</tspan><tspan class="c10">C</tspan><tspan class="c9">S</tspan><tspan class="c3">R</tspan><tspan class="c13 b">G</tspan><tspan class="c8">S</tspan><tspan class="c11">S</tspan><tspan class="c9">W</tspan><tspan class="c14 b">S</tspan><tspan class="c5">A</tspan><tspan class="c11">DLDK</tspan><tspan class="c10">C</tspan><tspan class="c12">I</tspan><tspan class="c7">K</tspan><tspan class="c8">G</tspan><tspan class="c6">R</tspan><tspan class="c11">G</tspan><tspan class="c9">CP</tspan><tspan class="c4">G</tspan><tspan class="c9">EG</tspan><tspan class="c1">R</tspan><tspan class="c10">V</tspan><tspan class="c11">PP</tspan><tspan class="c8">P</tspan><tspan class="c2">M</tspan><tspan class="c9">--</tspan><tspan class="c8">T</tspan><tspan class="c13">AA</tspan><tspan class="c19 b">PP</tspan><tspan class="c10">A</tspan><tspan class="c6">S</tspan><tspan class="c15">F</tspan><tspan class="c5">R</tspan><tspan class="c16">L</tspan><tspan class="c19 b">L</tspan><tspan class="c16">W</tspan><tspan class="c19 b">P</tspan><tspan class="c16">IL</tspan><tspan class="c19 b">G</tspan><tspan class="c16">G</tspan><tspan class="c11">A</tspan><tspan class="c19 b">L</tspan><tspan class="c15">S</tspan><tspan class="c18 b">L</tspan><tspan class="c10">A</tspan><tspan class="c16">L</tspan><tspan class="c15">V</tspan><tspan class="c17">L</tspan><tspan class="c16">GLL</tspan><tspan class="c15">S</tspan><tspan class="c11">G</tspan><tspan class="c18">F</tspan><tspan class="c18 b">L</tspan><tspan class="c16">V</tspan><tspan class="c15">W</tspan><tspan class="c17">RRC</tspan><tspan class="c19 b">R</tspan><tspan class="c16">RR</tspan><tspan class="c18 b">E</tspan><tspan class="c17">K</tspan><tspan class="c19 b">FTTPIEETGG</tspan><tspan class="c17 b">E</tspan><tspan class="c14">G</tspan><tspan class="c16">C</tspan><tspan class="c16 b">P</tspan><tspan class="c14">G</tspan><tspan class="c13">V</tspan><tspan class="c18 b">AL</tspan><tspan class="c17 b">I</tspan><tspan class="c16 b">Q</tspan></text>
<text class="sq" x="439.19" y="557.6"><tspan class="c10">-</tspan><tspan class="c4">-</tspan><tspan class="c0">-</tspan><tspan class="c6">-</tspan><tspan class="c5">-</tspan><tspan class="c7">-</tspan><tspan class="c11">-</tspan><tspan class="c6">M</tspan><tspan class="c5">ALG</tspan><tspan class="c1">P</tspan><tspan class="c11">L</tspan><tspan class="c8">AV</tspan><tspan class="c15 b">L</tspan><tspan class="c8">L</tspan><tspan class="c5">A</tspan><tspan class="c6">L</tspan><tspan class="c4">T</tspan><tspan class="c12 b">V</tspan><tspan class="c9">L</tspan><tspan class="c4">R</tspan><tspan class="c11 b">L</tspan><tspan class="c6">T</tspan><tspan class="c5">W</tspan><tspan class="c12 b">G</tspan><tspan class="c10">E</tspan><tspan class="c2">PA</tspan><tspan class="c10">S</tspan><tspan class="c8">A</tspan><tspan class="c6">P</tspan><tspan class="c5">S</tspan><tspan class="c16 b">P</tspan><tspan class="c10">C</tspan><tspan class="c9">P</tspan><tspan class="c3">Q</tspan><tspan class="c13 b">G</tspan><tspan class="c8">S</tspan><tspan class="c11">S</tspan><tspan class="c9">W</tspan><tspan class="c14 b">S</tspan><tspan class="c5">P</tspan><tspan class="c11">DLDK</tspan><tspan class="c10">C</tspan><tspan class="c12">M</tspan><tspan class="c7">D</tspan><tspan class="c8">C</tspan><tspan class="c6">S</tspan><tspan class="c11">S</tspan><tspan class="c9">CP</tspan><tspan class="c4">A</tspan><tspan class="c9">RP</tspan><tspan class="c1">Y</tspan><tspan class="c10">S</tspan><tspan class="c11">DF</tspan><tspan class="c8">C</tspan><tspan class="c2">P</tspan><tspan class="c9">GC</tspan><tspan class="c8">S</tspan><tspan class="c13">TA</tspan><tspan class="c19 b">PP</tspan><tspan class="c10">A</tspan><tspan class="c6">A</tspan><tspan class="c15">F</tspan><tspan class="c5">P</tspan><tspan class="c16">L</tspan><tspan class="c19 b">L</tspan><tspan class="c16">W</tspan><tspan class="c19 b">P</tspan><tspan class="c16">VL</tspan><tspan class="c19 b">G</tspan><tspan class="c16">G</tspan><tspan class="c11">T</tspan><tspan class="c19 b">L</tspan><tspan class="c15">G</tspan><tspan class="c18 b">L</tspan><tspan class="c10">M</tspan><tspan class="c16">L</tspan><tspan class="c15">I</tspan><tspan class="c17">I</tspan><tspan class="c16">GLL</tspan><tspan class="c15">S</tspan><tspan class="c11">G</tspan><tspan class="c18">L</tspan><tspan class="c18 b">L</tspan><tspan class="c16">V</tspan><tspan class="c15">W</tspan><tspan class="c17">RQC</tspan><tspan class="c19 b">R</tspan><tspan class="c16">RK</tspan><tspan class="c18 b">E</tspan><tspan class="c17">K</tspan><tspan class="c19 b">FTTPIEETGG</tspan><tspan class="c17 b">E</tspan><tspan class="c14">G</tspan><tspan class="c16">C</tspan><tspan class="c16 b">P</tspan><tspan class="c14">G</tspan><tspan class="c13">T</tspan><tspan class="c18 b">AL</tspan><tspan class="c17 b">I</tspan><tspan class="c16 b">Q</tspan></text>
<text class="sq" x="439.19" y="578.1"><tspan class="c10">X</tspan><tspan class="c4">X</tspan><tspan class="c0">X</tspan><tspan class="c6">X</tspan><tspan class="c5">X</tspan><tspan class="c7">X</tspan><tspan class="c11">X</tspan><tspan class="c6">X</tspan><tspan class="c5">XXX</tspan><tspan class="c1">X</tspan><tspan class="c11">X</tspan><tspan class="c8">XX</tspan><tspan class="c15 b">X</tspan><tspan class="c8">X</tspan><tspan class="c5">X</tspan><tspan class="c6">X</tspan><tspan class="c4">X</tspan><tspan class="c12 b">X</tspan><tspan class="c9">X</tspan><tspan class="c4">X</tspan><tspan class="c11 b">X</tspan><tspan class="c6">X</tspan><tspan class="c5">X</tspan><tspan class="c12 b">X</tspan><tspan class="c10">X</tspan><tspan class="c2">XX</tspan><tspan class="c10">P</tspan><tspan class="c8">G</tspan><tspan class="c6">T</tspan><tspan class="c5">T</tspan><tspan class="c16 b">P</tspan><tspan class="c10">C</tspan><tspan class="c9">S</tspan><tspan class="c3">R</tspan><tspan class="c13 b">G</tspan><tspan class="c8">S</tspan><tspan class="c11">S</tspan><tspan class="c9">W</tspan><tspan class="c14 b">S</tspan><tspan class="c5">A</tspan><tspan class="c11">DLDK</tspan><tspan class="c10">C</tspan><tspan class="c12">M</tspan><tspan class="c7">D</tspan><tspan class="c8">C</tspan><tspan class="c6">A</tspan><tspan class="c11">S</tspan><tspan class="c9">CP</tspan><tspan class="c4">A</tspan><tspan class="c9">RP</tspan><tspan class="c1">N</tspan><tspan class="c10">S</tspan><tspan class="c11">DF</tspan><tspan class="c8">C</tspan><tspan class="c2">L</tspan><tspan class="c9">GC</tspan><tspan class="c8">A</tspan><tspan class="c13">AA</tspan><tspan class="c19 b">PP</tspan><tspan class="c10">A</tspan><tspan class="c6">S</tspan><tspan class="c15">F</tspan><tspan class="c5">P</tspan><tspan class="c16">L</tspan><tspan class="c19 b">L</tspan><tspan class="c16">W</tspan><tspan class="c19 b">P</tspan><tspan class="c16">IL</tspan><tspan class="c19 b">G</tspan><tspan class="c16">G</tspan><tspan class="c11">A</tspan><tspan class="c19 b">L</tspan><tspan class="c15">S</tspan><tspan class="c18 b">L</tspan><tspan class="c10">A</tspan><tspan class="c16">L</tspan><tspan class="c15">V</tspan><tspan class="c17">L</tspan><tspan class="c16">GLL</tspan><tspan class="c15">S</tspan><tspan class="c11">G</tspan><tspan class="c18">F</tspan><tspan class="c18 b">L</tspan><tspan class="c16">V</tspan><tspan class="c15">W</tspan><tspan class="c17">RRC</tspan><tspan class="c19 b">R</tspan><tspan class="c16">RR</tspan><tspan class="c18 b">E</tspan><tspan class="c17">K</tspan><tspan class="c19 b">FTTPIEETGG</tspan><tspan class="c17 b">E</tspan><tspan class="c14">G</tspan><tspan class="c16">C</tspan><tspan class="c16 b">P</tspan><tspan class="c14">G</tspan><tspan class="c13">V</tspan><tspan class="c18 b">AL</tspan><tspan class="c17 b">I</tspan><tspan class="c16 b">Q</tspan></text>
<text class="sq" x="439.19" y="598.6"><tspan class="c10">X</tspan><tspan class="c4">X</tspan><tspan class="c0">X</tspan><tspan class="c6">X</tspan><tspan class="c5">X</tspan><tspan class="c7">X</tspan><tspan class="c11">X</tspan><tspan class="c6">X</tspan><tspan class="c5">XXX</tspan><tspan class="c1">X</tspan><tspan class="c11">X</tspan><tspan class="c8">XX</tspan><tspan class="c15 b">X</tspan><tspan class="c8">X</tspan><tspan class="c5">X</tspan><tspan class="c6">X</tspan><tspan class="c4">X</tspan><tspan class="c12 b">X</tspan><tspan class="c9">X</tspan><tspan class="c4">X</tspan><tspan class="c11 b">X</tspan><tspan class="c6">X</tspan><tspan class="c5">X</tspan><tspan class="c12 b">X</tspan><tspan class="c10">X</tspan><tspan class="c2">XS</tspan><tspan class="c10">P</tspan><tspan class="c8">G</tspan><tspan class="c6">T</tspan><tspan class="c5">T</tspan><tspan class="c16 b">P</tspan><tspan class="c10">C</tspan><tspan class="c9">S</tspan><tspan class="c3">R</tspan><tspan class="c13 b">G</tspan><tspan class="c8">S</tspan><tspan class="c11">S</tspan><tspan class="c9">W</tspan><tspan class="c14 b">S</tspan><tspan class="c5">A</tspan><tspan class="c11">DLDK</tspan><tspan class="c10">C</tspan><tspan class="c12">M</tspan><tspan class="c7">D</tspan><tspan class="c8">C</tspan><tspan class="c6">A</tspan><tspan class="c11">S</tspan><tspan class="c9">CP</tspan><tspan class="c4">A</tspan><tspan class="c9">RP</tspan><tspan class="c1">H</tspan><tspan class="c10">S</tspan><tspan class="c11">DF</tspan><tspan class="c8">C</tspan><tspan class="c2">L</tspan><tspan class="c9">GC</tspan><tspan class="c8">A</tspan><tspan class="c13">AS</tspan><tspan class="c19 b">PP</tspan><tspan class="c10">A</tspan><tspan class="c6">S</tspan><tspan class="c15">F</tspan><tspan class="c5">P</tspan><tspan class="c16">L</tspan><tspan class="c19 b">L</tspan><tspan class="c16">W</tspan><tspan class="c19 b">P</tspan><tspan class="c16">IL</tspan><tspan class="c19 b">G</tspan><tspan class="c16">G</tspan><tspan class="c11">A</tspan><tspan class="c19 b">L</tspan><tspan class="c15">S</tspan><tspan class="c18 b">L</tspan><tspan class="c10">A</tspan><tspan class="c16">L</tspan><tspan class="c15">V</tspan><tspan class="c17">L</tspan><tspan class="c16">GLL</tspan><tspan class="c15">S</tspan><tspan class="c11">G</tspan><tspan class="c18">F</tspan><tspan class="c18 b">L</tspan><tspan class="c16">V</tspan><tspan class="c15">W</tspan><tspan class="c17">RRC</tspan><tspan class="c19 b">R</tspan><tspan class="c16">RR</tspan><tspan class="c18 b">E</tspan><tspan class="c17">K</tspan><tspan class="c19 b">FTTPIEETGG</tspan><tspan class="c17 b">E</tspan><tspan class="c14">G</tspan><tspan class="c16">C</tspan><tspan class="c16 b">P</tspan><tspan class="c14">G</tspan><tspan class="c13">V</tspan><tspan class="c18 b">AL</tspan><tspan class="c17 b">I</tspan><tspan class="c16 b">Q</tspan></text>
<text class="sq" x="439.19" y="619.1"><tspan class="c10">X</tspan><tspan class="c4">X</tspan><tspan class="c0">X</tspan><tspan class="c6">X</tspan><tspan class="c5">X</tspan><tspan class="c7">X</tspan><tspan class="c11">X</tspan><tspan class="c6">X</tspan><tspan class="c5">XXX</tspan><tspan class="c1">X</tspan><tspan class="c11">X</tspan><tspan class="c8">XX</tspan><tspan class="c15 b">X</tspan><tspan class="c8">X</tspan><tspan class="c5">X</tspan><tspan class="c6">X</tspan><tspan class="c4">X</tspan><tspan class="c12 b">X</tspan><tspan class="c9">X</tspan><tspan class="c4">X</tspan><tspan class="c11 b">X</tspan><tspan class="c6">X</tspan><tspan class="c5">X</tspan><tspan class="c12 b">X</tspan><tspan class="c10">X</tspan><tspan class="c2">XX</tspan><tspan class="c10">X</tspan><tspan class="c8">X</tspan><tspan class="c6">T</tspan><tspan class="c5">A</tspan><tspan class="c16 b">P</tspan><tspan class="c10">C</tspan><tspan class="c9">S</tspan><tspan class="c3">R</tspan><tspan class="c13 b">G</tspan><tspan class="c8">S</tspan><tspan class="c11">S</tspan><tspan class="c9">W</tspan><tspan class="c14 b">S</tspan><tspan class="c5">A</tspan><tspan class="c11">DLDK</tspan><tspan class="c10">C</tspan><tspan class="c12">M</tspan><tspan class="c7">D</tspan><tspan class="c8">C</tspan><tspan class="c6">A</tspan><tspan class="c11">S</tspan><tspan class="c9">CP</tspan><tspan class="c4">A</tspan><tspan class="c9">RP</tspan><tspan class="c1">H</tspan><tspan class="c10">S</tspan><tspan class="c11">DF</tspan><tspan class="c8">C</tspan><tspan class="c2">L</tspan><tspan class="c9">GC</tspan><tspan class="c8">A</tspan><tspan class="c13">AA</tspan><tspan class="c19 b">PP</tspan><tspan class="c10">A</tspan><tspan class="c6">P</tspan><tspan class="c15">F</tspan><tspan class="c5">R</tspan><tspan class="c16">L</tspan><tspan class="c19 b">L</tspan><tspan class="c16">W</tspan><tspan class="c19 b">P</tspan><tspan class="c16">IL</tspan><tspan class="c19 b">G</tspan><tspan class="c16">G</tspan><tspan class="c11">A</tspan><tspan class="c19 b">L</tspan><tspan class="c15">S</tspan><tspan class="c18 b">L</tspan><tspan class="c10">V</tspan><tspan class="c16">L</tspan><tspan class="c15">V</tspan><tspan class="c17">L</tspan><tspan class="c16">GLL</tspan><tspan class="c15">S</tspan><tspan class="c11">A</tspan><tspan class="c18">F</tspan><tspan class="c18 b">L</tspan><tspan class="c16">V</tspan><tspan class="c15">W</tspan><tspan class="c17">RRC</tspan><tspan class="c19 b">R</tspan><tspan class="c16">RR</tspan><tspan class="c18 b">E</tspan><tspan class="c17">K</tspan><tspan class="c19 b">FTTPIEETGG</tspan><tspan class="c17 b">E</tspan><tspan class="c14">G</tspan><tspan class="c16">C</tspan><tspan class="c16 b">P</tspan><tspan class="c14">G</tspan><tspan class="c13">A</tspan><tspan class="c18 b">AL</tspan><tspan class="c17 b">I</tspan><tspan class="c16 b">Q</tspan></text>
<text class="sq" x="439.19" y="639.6"><tspan class="c10">-</tspan><tspan class="c4">-</tspan><tspan class="c0">-</tspan><tspan class="c6">-</tspan><tspan class="c5">-</tspan><tspan class="c7">-</tspan><tspan class="c11">-</tspan><tspan class="c6">-</tspan><tspan class="c5">---</tspan><tspan class="c1">-</tspan><tspan class="c11">-</tspan><tspan class="c8">--</tspan><tspan class="c15 b">-</tspan><tspan class="c8">-</tspan><tspan class="c5">-</tspan><tspan class="c6">-</tspan><tspan class="c4">M</tspan><tspan class="c12 b">M</tspan><tspan class="c9">L</tspan><tspan class="c4">K</tspan><tspan class="c11 b">L</tspan><tspan class="c6">S</tspan><tspan class="c5">F</tspan><tspan class="c12 b">L</tspan><tspan class="c10">F</tspan><tspan class="c2">SF</tspan><tspan class="c10">P</tspan><tspan class="c8">S</tspan><tspan class="c6">A</tspan><tspan class="c5">T</tspan><tspan class="c16 b">A</tspan><tspan class="c10">C</tspan><tspan class="c9">P</tspan><tspan class="c3">G</tspan><tspan class="c13 b">G</tspan><tspan class="c8">Q</tspan><tspan class="c11">S</tspan><tspan class="c9">W</tspan><tspan class="c14 b">S</tspan><tspan class="c5">P</tspan><tspan class="c11">DLEK</tspan><tspan class="c10">C</tspan><tspan class="c12">M</tspan><tspan class="c7">D</tspan><tspan class="c8">C</tspan><tspan class="c6">A</tspan><tspan class="c11">V</tspan><tspan class="c9">CR</tspan><tspan class="c4">F</tspan><tspan class="c9">QN</tspan><tspan class="c1">M</tspan><tspan class="c10">N</tspan><tspan class="c11">DF</tspan><tspan class="c8">C</tspan><tspan class="c2">S</tspan><tspan class="c9">SC</tspan><tspan class="c8">D</tspan><tspan class="c13">PQ</tspan><tspan class="c19 b">PP</tspan><tspan class="c10">D</tspan><tspan class="c6">T</tspan><tspan class="c15">F</tspan><tspan class="c5">N</tspan><tspan class="c16">-</tspan><tspan class="c19 b">L</tspan><tspan class="c16">W</tspan><tspan class="c19 b">L</tspan><tspan class="c16">FV</tspan><tspan class="c19 b">G</tspan><tspan class="c16">V</tspan><tspan class="c11">P</tspan><tspan class="c19 b">L</tspan><tspan class="c15">A</tspan><tspan class="c18 b">A</tspan><tspan class="c10">V</tspan><tspan class="c16">F</tspan><tspan class="c15">L</tspan><tspan class="c17">L</tspan><tspan class="c16">SLT</tspan><tspan class="c15">V</tspan><tspan class="c11">G</tspan><tspan class="c18">I</tspan><tspan class="c18 b">I</tspan><tspan class="c16">T</tspan><tspan class="c15">Y</tspan><tspan class="c17">ARC</tspan><tspan class="c19 b">R</tspan><tspan class="c16">RR</tspan><tspan class="c18 b">E</tspan><tspan class="c17">K</tspan><tspan class="c19 b">FTTPIEETGG</tspan><tspan class="c17 b">H</tspan><tspan class="c14">S</tspan><tspan class="c16">A</tspan><tspan class="c16 b">Q</tspan><tspan class="c14">E</tspan><tspan class="c13">S</tspan><tspan class="c18 b">LI</tspan><tspan class="c17 b">H</tspan><tspan class="c16 b">-</tspan></text>
<rect x="61.5" y="35.5" width="2039" height="615" fill="none" stroke="#777" stroke-width="1"/>
</svg></body></html>
